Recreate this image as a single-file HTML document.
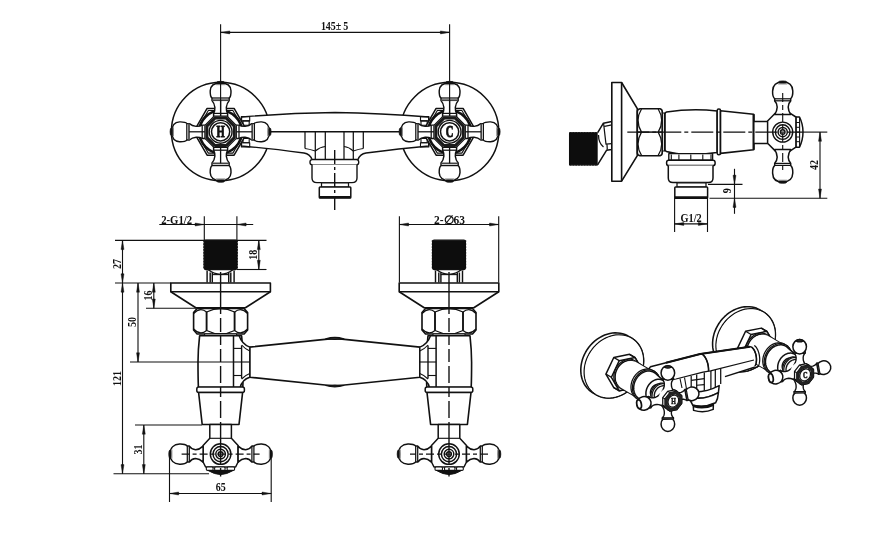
<!DOCTYPE html>
<html><head><meta charset="utf-8"><title>Drawing</title>
<style>
html,body{margin:0;padding:0;background:#fff;}
body{width:869px;height:549px;overflow:hidden;}
svg{display:block;will-change:transform;}
svg text{font-family:"Liberation Serif",serif;fill:#111;stroke:none;}
</style></head>
<body>
<svg width="869" height="549" viewBox="0 0 869 549" stroke="#111" fill="none" stroke-linejoin="round" stroke-linecap="butt">
<rect x="0" y="0" width="869" height="549" fill="#fff" stroke="none"/>
<circle cx="220.6" cy="131.5" r="49.2" stroke-width="1.50" fill="none" />
<circle cx="449.6" cy="131.5" r="49.2" stroke-width="1.50" fill="none" />
<path d="M241.5 117 Q290 113 335 112.5 Q380 113 428.7 117 L428.7 146 Q400 148.5 366 153 Q360 154 358 159.5 L312 159.5 Q310 154 304 153 Q270 148.5 241.5 146Z" stroke-width="1.38" fill="#fff" />
<path d="M270.00 131.70L399.00 131.70" stroke-width="1.38" />
<g transform="translate(220.6 0) scale(1 1)">
<rect x="20.8" y="116.6" width="8.3" height="4.3" rx="0" stroke-width="1.12" fill="none" />
<rect x="22.4" y="120.9" width="6.2" height="4.4" rx="0" stroke-width="1.12" fill="none" />
<rect x="22.4" y="138.4" width="6.2" height="4.4" rx="0" stroke-width="1.12" fill="none" />
<rect x="20.8" y="142.8" width="8.3" height="4.2" rx="0" stroke-width="1.12" fill="none" />
</g>
<g transform="translate(449.6 0) scale(-1 1)">
<rect x="20.8" y="116.6" width="8.3" height="4.3" rx="0" stroke-width="1.12" fill="none" />
<rect x="22.4" y="120.9" width="6.2" height="4.4" rx="0" stroke-width="1.12" fill="none" />
<rect x="22.4" y="138.4" width="6.2" height="4.4" rx="0" stroke-width="1.12" fill="none" />
<rect x="20.8" y="142.8" width="8.3" height="4.2" rx="0" stroke-width="1.12" fill="none" />
</g>
<path d="M305.00 131.70L305.00 148.50" stroke-width="1.25" />
<path d="M315.30 131.70L315.30 159.00" stroke-width="1.25" />
<path d="M325.30 131.70L325.30 159.00" stroke-width="1.25" />
<path d="M344.00 131.70L344.00 159.00" stroke-width="1.25" />
<path d="M353.30 131.70L353.30 159.00" stroke-width="1.25" />
<path d="M363.30 131.70L363.30 148.50" stroke-width="1.25" />
<path d="M305 148.5 Q309 149 315.3 151 M315.3 151 Q320 147 325.3 146.5" stroke-width="1.12" fill="none" />
<path d="M363.3 148.5 Q359 149 353.3 151 M353.3 151 Q349 147 344 146.5" stroke-width="1.12" fill="none" />
<rect x="310" y="159.6" width="48.7" height="5" rx="2.2" stroke-width="1.38" fill="#fff" />
<path d="M312 164.6 L312 178 Q312 182.6 317 182.6 L352 182.6 Q357 182.6 357 178 L357 164.6" stroke-width="1.38" fill="#fff" />
<rect x="321.5" y="182.8" width="27" height="4.2" rx="0" stroke-width="1.25" fill="#fff" />
<rect x="319.3" y="187" width="31.5" height="11" rx="0.8" stroke-width="1.50" fill="#fff" />
<path d="M319.30 197.10L350.80 197.10" stroke-width="2.25" />
<path d="M334.70 150.00L334.70 213.00" stroke-width="1.38" stroke-dasharray="14 3 3 3"/>
<g transform="translate(220.6 131.8)">
<polygon points="27.00,0.00 13.50,23.38 -13.50,23.38 -27.00,0.00 -13.50,-23.38 13.50,-23.38" fill="#fff" stroke-width="1.5"/>
<polygon points="24.60,0.00 12.30,21.30 -12.30,21.30 -24.60,0.00 -12.30,-21.30 12.30,-21.30" fill="none" stroke-width="1.1"/>
<circle cx="0" cy="0" r="21.3" stroke-width="2.62" fill="#fff" />
<g transform="rotate(0) scale(1.06 1)">
<path d="M-6.6 -15 L-6.6 -18.2 Q-5.2 -21 -5.4 -24.5 Q-5.8 -28.5 -8.1 -31.2 L-8.1 -33.6 C-9.6 -35 -9.9 -38 -9.8 -41 C-9.6 -46 -6.5 -48.8 0 -48.8 C6.5 -48.8 9.6 -46 9.8 -41 C9.9 -38 9.6 -35 8.1 -33.6 L8.1 -31.2 Q5.8 -28.5 5.4 -24.5 Q5.2 -21 6.6 -18.2 L6.6 -15Z" stroke-width="1.38" fill="#fff" />
<path d="M-8.10 -33.80L8.10 -33.80" stroke-width="1.25" />
<path d="M-8.10 -31.60L8.10 -31.60" stroke-width="1.75" stroke="#444"/>
<path d="M-6.60 -18.40L6.60 -18.40" stroke-width="1.25" />
<path d="M0.00 -15.00L0.00 -31.50" stroke-width="1.25" />
<ellipse cx="0" cy="-49.1" rx="4" ry="1.4" stroke-width="0.75" fill="#111" />
<path d="M-4.50 -47.20L4.50 -47.20" stroke-width="1.12" stroke="#888"/>
</g>
<g transform="rotate(90) scale(1.01 1)">
<path d="M-6.6 -15 L-6.6 -18.2 Q-5.2 -21 -5.4 -24.5 Q-5.8 -28.5 -8.1 -31.2 L-8.1 -33.6 C-9.6 -35 -9.9 -38 -9.8 -41 C-9.6 -46 -6.5 -48.8 0 -48.8 C6.5 -48.8 9.6 -46 9.8 -41 C9.9 -38 9.6 -35 8.1 -33.6 L8.1 -31.2 Q5.8 -28.5 5.4 -24.5 Q5.2 -21 6.6 -18.2 L6.6 -15Z" stroke-width="1.38" fill="#fff" />
<path d="M-8.10 -33.80L8.10 -33.80" stroke-width="1.25" />
<path d="M-8.10 -31.60L8.10 -31.60" stroke-width="1.75" stroke="#444"/>
<path d="M-6.60 -18.40L6.60 -18.40" stroke-width="1.25" />
<path d="M0.00 -15.00L0.00 -31.50" stroke-width="1.25" />
<ellipse cx="0" cy="-49.1" rx="4" ry="1.4" stroke-width="0.75" fill="#111" />
<path d="M-4.50 -47.20L4.50 -47.20" stroke-width="1.12" stroke="#888"/>
</g>
<g transform="rotate(180) scale(1.06 1)">
<path d="M-6.6 -15 L-6.6 -18.2 Q-5.2 -21 -5.4 -24.5 Q-5.8 -28.5 -8.1 -31.2 L-8.1 -33.6 C-9.6 -35 -9.9 -38 -9.8 -41 C-9.6 -46 -6.5 -48.8 0 -48.8 C6.5 -48.8 9.6 -46 9.8 -41 C9.9 -38 9.6 -35 8.1 -33.6 L8.1 -31.2 Q5.8 -28.5 5.4 -24.5 Q5.2 -21 6.6 -18.2 L6.6 -15Z" stroke-width="1.38" fill="#fff" />
<path d="M-8.10 -33.80L8.10 -33.80" stroke-width="1.25" />
<path d="M-8.10 -31.60L8.10 -31.60" stroke-width="1.75" stroke="#444"/>
<path d="M-6.60 -18.40L6.60 -18.40" stroke-width="1.25" />
<path d="M0.00 -15.00L0.00 -31.50" stroke-width="1.25" />
<ellipse cx="0" cy="-49.1" rx="4" ry="1.4" stroke-width="0.75" fill="#111" />
<path d="M-4.50 -47.20L4.50 -47.20" stroke-width="1.12" stroke="#888"/>
</g>
<g transform="rotate(270) scale(1.01 1)">
<path d="M-6.6 -15 L-6.6 -18.2 Q-5.2 -21 -5.4 -24.5 Q-5.8 -28.5 -8.1 -31.2 L-8.1 -33.6 C-9.6 -35 -9.9 -38 -9.8 -41 C-9.6 -46 -6.5 -48.8 0 -48.8 C6.5 -48.8 9.6 -46 9.8 -41 C9.9 -38 9.6 -35 8.1 -33.6 L8.1 -31.2 Q5.8 -28.5 5.4 -24.5 Q5.2 -21 6.6 -18.2 L6.6 -15Z" stroke-width="1.38" fill="#fff" />
<path d="M-8.10 -33.80L8.10 -33.80" stroke-width="1.25" />
<path d="M-8.10 -31.60L8.10 -31.60" stroke-width="1.75" stroke="#444"/>
<path d="M-6.60 -18.40L6.60 -18.40" stroke-width="1.25" />
<path d="M0.00 -15.00L0.00 -31.50" stroke-width="1.25" />
<ellipse cx="0" cy="-49.1" rx="4" ry="1.4" stroke-width="0.75" fill="#111" />
<path d="M-4.50 -47.20L4.50 -47.20" stroke-width="1.12" stroke="#888"/>
</g>
<polygon points="15.70,6.50 6.50,15.70 -6.50,15.70 -15.70,6.50 -15.70,-6.50 -6.50,-15.70 6.50,-15.70 15.70,-6.50" fill="#fff" stroke-width="1.2"/>
<polygon points="13.70,5.67 5.67,13.70 -5.67,13.70 -13.70,5.67 -13.70,-5.67 -5.67,-13.70 5.67,-13.70 13.70,-5.67" fill="#fff" stroke-width="3" stroke="#1a1a1a"/>
<circle cx="0" cy="0" r="11.4" stroke-width="1.38" fill="#fff" />
<circle cx="0" cy="0" r="9.1" stroke-width="1.50" fill="#fff" />
<text x="0" y="5.5" font-size="16.5" text-anchor="middle" font-weight="bold" textLength="8.2" lengthAdjust="spacingAndGlyphs" style="stroke:#111;stroke-width:1px">H</text>
</g>
<g transform="translate(449.6 131.8)">
<polygon points="27.00,0.00 13.50,23.38 -13.50,23.38 -27.00,0.00 -13.50,-23.38 13.50,-23.38" fill="#fff" stroke-width="1.5"/>
<polygon points="24.60,0.00 12.30,21.30 -12.30,21.30 -24.60,0.00 -12.30,-21.30 12.30,-21.30" fill="none" stroke-width="1.1"/>
<circle cx="0" cy="0" r="21.3" stroke-width="2.62" fill="#fff" />
<g transform="rotate(0) scale(1.06 1)">
<path d="M-6.6 -15 L-6.6 -18.2 Q-5.2 -21 -5.4 -24.5 Q-5.8 -28.5 -8.1 -31.2 L-8.1 -33.6 C-9.6 -35 -9.9 -38 -9.8 -41 C-9.6 -46 -6.5 -48.8 0 -48.8 C6.5 -48.8 9.6 -46 9.8 -41 C9.9 -38 9.6 -35 8.1 -33.6 L8.1 -31.2 Q5.8 -28.5 5.4 -24.5 Q5.2 -21 6.6 -18.2 L6.6 -15Z" stroke-width="1.38" fill="#fff" />
<path d="M-8.10 -33.80L8.10 -33.80" stroke-width="1.25" />
<path d="M-8.10 -31.60L8.10 -31.60" stroke-width="1.75" stroke="#444"/>
<path d="M-6.60 -18.40L6.60 -18.40" stroke-width="1.25" />
<path d="M0.00 -15.00L0.00 -31.50" stroke-width="1.25" />
<ellipse cx="0" cy="-49.1" rx="4" ry="1.4" stroke-width="0.75" fill="#111" />
<path d="M-4.50 -47.20L4.50 -47.20" stroke-width="1.12" stroke="#888"/>
</g>
<g transform="rotate(90) scale(1.01 1)">
<path d="M-6.6 -15 L-6.6 -18.2 Q-5.2 -21 -5.4 -24.5 Q-5.8 -28.5 -8.1 -31.2 L-8.1 -33.6 C-9.6 -35 -9.9 -38 -9.8 -41 C-9.6 -46 -6.5 -48.8 0 -48.8 C6.5 -48.8 9.6 -46 9.8 -41 C9.9 -38 9.6 -35 8.1 -33.6 L8.1 -31.2 Q5.8 -28.5 5.4 -24.5 Q5.2 -21 6.6 -18.2 L6.6 -15Z" stroke-width="1.38" fill="#fff" />
<path d="M-8.10 -33.80L8.10 -33.80" stroke-width="1.25" />
<path d="M-8.10 -31.60L8.10 -31.60" stroke-width="1.75" stroke="#444"/>
<path d="M-6.60 -18.40L6.60 -18.40" stroke-width="1.25" />
<path d="M0.00 -15.00L0.00 -31.50" stroke-width="1.25" />
<ellipse cx="0" cy="-49.1" rx="4" ry="1.4" stroke-width="0.75" fill="#111" />
<path d="M-4.50 -47.20L4.50 -47.20" stroke-width="1.12" stroke="#888"/>
</g>
<g transform="rotate(180) scale(1.06 1)">
<path d="M-6.6 -15 L-6.6 -18.2 Q-5.2 -21 -5.4 -24.5 Q-5.8 -28.5 -8.1 -31.2 L-8.1 -33.6 C-9.6 -35 -9.9 -38 -9.8 -41 C-9.6 -46 -6.5 -48.8 0 -48.8 C6.5 -48.8 9.6 -46 9.8 -41 C9.9 -38 9.6 -35 8.1 -33.6 L8.1 -31.2 Q5.8 -28.5 5.4 -24.5 Q5.2 -21 6.6 -18.2 L6.6 -15Z" stroke-width="1.38" fill="#fff" />
<path d="M-8.10 -33.80L8.10 -33.80" stroke-width="1.25" />
<path d="M-8.10 -31.60L8.10 -31.60" stroke-width="1.75" stroke="#444"/>
<path d="M-6.60 -18.40L6.60 -18.40" stroke-width="1.25" />
<path d="M0.00 -15.00L0.00 -31.50" stroke-width="1.25" />
<ellipse cx="0" cy="-49.1" rx="4" ry="1.4" stroke-width="0.75" fill="#111" />
<path d="M-4.50 -47.20L4.50 -47.20" stroke-width="1.12" stroke="#888"/>
</g>
<g transform="rotate(270) scale(1.01 1)">
<path d="M-6.6 -15 L-6.6 -18.2 Q-5.2 -21 -5.4 -24.5 Q-5.8 -28.5 -8.1 -31.2 L-8.1 -33.6 C-9.6 -35 -9.9 -38 -9.8 -41 C-9.6 -46 -6.5 -48.8 0 -48.8 C6.5 -48.8 9.6 -46 9.8 -41 C9.9 -38 9.6 -35 8.1 -33.6 L8.1 -31.2 Q5.8 -28.5 5.4 -24.5 Q5.2 -21 6.6 -18.2 L6.6 -15Z" stroke-width="1.38" fill="#fff" />
<path d="M-8.10 -33.80L8.10 -33.80" stroke-width="1.25" />
<path d="M-8.10 -31.60L8.10 -31.60" stroke-width="1.75" stroke="#444"/>
<path d="M-6.60 -18.40L6.60 -18.40" stroke-width="1.25" />
<path d="M0.00 -15.00L0.00 -31.50" stroke-width="1.25" />
<ellipse cx="0" cy="-49.1" rx="4" ry="1.4" stroke-width="0.75" fill="#111" />
<path d="M-4.50 -47.20L4.50 -47.20" stroke-width="1.12" stroke="#888"/>
</g>
<polygon points="15.70,6.50 6.50,15.70 -6.50,15.70 -15.70,6.50 -15.70,-6.50 -6.50,-15.70 6.50,-15.70 15.70,-6.50" fill="#fff" stroke-width="1.2"/>
<polygon points="13.70,5.67 5.67,13.70 -5.67,13.70 -13.70,5.67 -13.70,-5.67 -5.67,-13.70 5.67,-13.70 13.70,-5.67" fill="#fff" stroke-width="3" stroke="#1a1a1a"/>
<circle cx="0" cy="0" r="11.4" stroke-width="1.38" fill="#fff" />
<circle cx="0" cy="0" r="9.1" stroke-width="1.50" fill="#fff" />
<text x="0" y="5.5" font-size="16.5" text-anchor="middle" font-weight="bold" textLength="7.6" lengthAdjust="spacingAndGlyphs" style="stroke:#111;stroke-width:1px">C</text>
</g>
<path d="M220.60 24.20L220.60 116.00" stroke-width="1.12" />
<path d="M449.60 24.20L449.60 116.00" stroke-width="1.12" />
<path d="M220.60 32.40L449.60 32.40" stroke-width="1.12" />
<path d="M220.60 32.40L229.80 30.90L229.80 33.90Z" fill="#111" stroke-width="0.4"/>
<path d="M449.60 32.40L440.40 33.90L440.40 30.90Z" fill="#111" stroke-width="0.4"/>
<text x="334.6" y="30" font-size="12.3" text-anchor="middle" font-weight="bold" textLength="27.4" lengthAdjust="spacingAndGlyphs" >145±&#8201;5</text>
<path d="M249.6 347.1 L334.8 338.4 L420.0 347.1 L420.0 377.2 L334.8 386 L249.6 377.2Z" stroke-width="1.62" fill="#fff" />
<path d="M325.8 338.9 Q334.8 336 343.8 338.9 Q334.8 339.6 325.8 338.9Z" stroke-width="1.25" fill="#333" />
<path d="M325.8 385.5 Q334.8 388.4 343.8 385.5 Q334.8 384.8 325.8 385.5Z" stroke-width="1.25" fill="#333" />
<g transform="translate(220.6 0) scale(1 1)">
<rect x="-16.4" y="240.2" width="32.8" height="29.4" rx="1.5" stroke-width="1.25" fill="#0d0d0d" stroke="#0d0d0d"/>
<path d="M-17.2 241.2h1M16.2 241.2h1M-17.2 244.1h1M16.2 244.1h1M-17.2 247.0h1M16.2 247.0h1M-17.2 249.9h1M16.2 249.9h1M-17.2 252.8h1M16.2 252.8h1M-17.2 255.7h1M16.2 255.7h1M-17.2 258.6h1M16.2 258.6h1M-17.2 261.5h1M16.2 261.5h1M-17.2 264.4h1M16.2 264.4h1M-17.2 267.3h1M16.2 267.3h1" stroke-width="1.75" fill="none" stroke="#0d0d0d"/>
<path d="M-12.8 269.6 Q0 279 12.8 269.6Z" stroke-width="1.25" fill="#fff" />
<path d="M-13.50 270.50L-13.50 282.50" stroke-width="1.44" />
<path d="M-10.40 272.50L-10.40 282.50" stroke-width="1.44" />
<path d="M-8.30 272.50L-8.30 282.50" stroke-width="1.44" />
<path d="M8.10 272.50L8.10 282.50" stroke-width="1.44" />
<path d="M10.20 272.50L10.20 282.50" stroke-width="1.44" />
<path d="M13.50 270.50L13.50 282.50" stroke-width="1.44" />
<path d="M-8.3 274.6 L8.1 274.6" stroke-width="1.12" fill="none" />
<path d="M-49.8 283 L49.8 283 L49.8 291.8 L24.8 307.8 L-24.8 307.8 L-49.8 291.8Z" stroke-width="1.62" fill="#fff" />
<path d="M-49.80 291.80L49.80 291.80" stroke-width="1.62" />
<path d="M-23.5 308.5 L23.5 308.5 L27 312.5 L27 330 L23.5 334 L-23.5 334 L-27 330 L-27 312.5Z" stroke-width="1.62" fill="#fff" />
<path d="M-14.00 312.00L-14.00 330.50" stroke-width="1.88" />
<path d="M14.00 312.00L14.00 330.50" stroke-width="1.88" />
<path d="M-27 313.5 Q-20.5 306.5 -14 312 Q0 305 14 312 Q20.5 306.5 27 313.5" stroke-width="1.25" fill="none" />
<path d="M-27 329 Q-20.5 336 -14 330.5 Q0 337.5 14 330.5 Q20.5 336 27 329" stroke-width="1.25" fill="none" />
<rect x="-16" y="334" width="32" height="1.8" rx="0" stroke-width="1.12" fill="#fff" />
<path d="M-21 335.8 L21 335.8 Q22.6 350 22.6 362 Q22.6 378 22.2 387.5 L-22.2 387.5 Q-22.6 378 -22.6 362 Q-22.6 350 -21 335.8Z" stroke-width="1.62" fill="#fff" />
</g>
<g transform="translate(220.6 0) scale(1 1)">
<path d="M18.5 335.8 Q21.5 344.5 29.2 347.1 L29.2 377.2 Q21.5 379.5 19.5 387.5 L12.9 387.5 L12.9 335.8Z" stroke-width="1.50" fill="#fff" />
<path d="M21.00 345.50L21.00 378.50" stroke-width="1.38" />
<path d="M21 345 Q25 349.5 29.2 351" stroke-width="1.12" fill="none" />
<path d="M21 379 Q25 375 29.2 373.5" stroke-width="1.12" fill="none" />
<path d="M12.90 348.40L21.00 348.40" stroke-width="1.12" />
<path d="M12.90 362.00L29.20 362.00" stroke-width="1.12" />
<path d="M12.90 375.50L21.00 375.50" stroke-width="1.12" />
</g>
<g transform="translate(220.6 0) scale(1 1)">
<rect x="-23.8" y="387.1" width="47.6" height="5.4" rx="2" stroke-width="1.50" fill="#fff" />
<path d="M-22 392.5 L22 392.5 L18.4 424.5 L-18.4 424.5Z" stroke-width="1.62" fill="#fff" />
<path d="M-10.8 424.5 L10.8 424.5 L10.8 438.3 L17.5 445.5 L17.5 462 L15 467 L-15 467 L-17.5 462 L-17.5 445.5 L-10.8 438.3Z" stroke-width="1.50" fill="#fff" />
<path d="M-10.80 438.30L10.80 438.30" stroke-width="1.12" />
</g>
<g transform="translate(220.6 454.1)">
<g transform="scale(1 1)">
<path d="M-17.5 -8 Q-21 -4.6000000000000005 -25 -4.4 Q-29 -4.6000000000000005 -31.2 -8 L-33.3 -8 C-34.8 -9.6 -37.8 -10.2 -41 -10.1 C-46.5 -9.9 -50.6 -6.5 -50.6 0 C-50.6 6.5 -46.5 9.9 -41 10.1 C-37.8 10.2 -34.8 9.6 -33.3 8 L-31.2 8 Q-29 4.6000000000000005 -25 4.4 Q-21 4.6000000000000005 -17.5 8 Z" stroke-width="1.50" fill="#fff" />
<path d="M-33.30 -8.00L-33.30 8.00" stroke-width="1.25" />
<path d="M-31.30 -8.00L-31.30 8.00" stroke-width="1.25" />
<ellipse cx="-50.5" cy="0" rx="1.3" ry="4.2" stroke-width="0.75" fill="#111" />
<path d="M-48.80 -4.60L-48.80 4.60" stroke-width="1.12" stroke="#888"/>
</g>
<g transform="scale(-1 1)">
<path d="M-17.5 -8 Q-21 -4.6000000000000005 -25 -4.4 Q-29 -4.6000000000000005 -31.2 -8 L-33.3 -8 C-34.8 -9.6 -37.8 -10.2 -41 -10.1 C-46.5 -9.9 -50.6 -6.5 -50.6 0 C-50.6 6.5 -46.5 9.9 -41 10.1 C-37.8 10.2 -34.8 9.6 -33.3 8 L-31.2 8 Q-29 4.6000000000000005 -25 4.4 Q-21 4.6000000000000005 -17.5 8 Z" stroke-width="1.50" fill="#fff" />
<path d="M-33.30 -8.00L-33.30 8.00" stroke-width="1.25" />
<path d="M-31.30 -8.00L-31.30 8.00" stroke-width="1.25" />
<ellipse cx="-50.5" cy="0" rx="1.3" ry="4.2" stroke-width="0.75" fill="#111" />
<path d="M-48.80 -4.60L-48.80 4.60" stroke-width="1.12" stroke="#888"/>
</g>
</g>
<g transform="translate(220.6 0) scale(1 1)">
<circle cx="0" cy="454.1" r="10.3" stroke-width="1.44" fill="#fff" />
<circle cx="0" cy="454.1" r="7.6" stroke-width="1.44" fill="none" />
<circle cx="0" cy="454.1" r="4.8" stroke-width="1.44" fill="none" />
<circle cx="0" cy="454.1" r="2.4" stroke-width="1.44" fill="none" />
<rect x="-14.3" y="467" width="6.8" height="3.4" rx="1.2" stroke-width="1.12" fill="#fff" />
<rect x="-6" y="467" width="10.5" height="3.4" rx="1.2" stroke-width="1.12" fill="#fff" />
<rect x="6.5" y="467" width="7.5" height="3.4" rx="1.2" stroke-width="1.12" fill="#fff" />
<path d="M-12.5 470.5 L12.5 470.5 Q6 474.5 0 474.5 Q-6 474.5 -12.5 470.5Z" stroke-width="1.00" fill="#111" />
<path d="M-39.00 454.10L39.00 454.10" stroke-width="1.12" stroke-dasharray="8 3 4 3"/>
</g>
<path d="M220.60 272.00L220.60 476.50" stroke-width="1.38" stroke-dasharray="42 4 14 4 9 4 13 4 17 4 10 4 17 4"/>
<g transform="translate(449.0 0) scale(-1 1)">
<rect x="-16.4" y="240.2" width="32.8" height="29.4" rx="1.5" stroke-width="1.25" fill="#0d0d0d" stroke="#0d0d0d"/>
<path d="M-17.2 241.2h1M16.2 241.2h1M-17.2 244.1h1M16.2 244.1h1M-17.2 247.0h1M16.2 247.0h1M-17.2 249.9h1M16.2 249.9h1M-17.2 252.8h1M16.2 252.8h1M-17.2 255.7h1M16.2 255.7h1M-17.2 258.6h1M16.2 258.6h1M-17.2 261.5h1M16.2 261.5h1M-17.2 264.4h1M16.2 264.4h1M-17.2 267.3h1M16.2 267.3h1" stroke-width="1.75" fill="none" stroke="#0d0d0d"/>
<path d="M-12.8 269.6 Q0 279 12.8 269.6Z" stroke-width="1.25" fill="#fff" />
<path d="M-13.50 270.50L-13.50 282.50" stroke-width="1.44" />
<path d="M-10.40 272.50L-10.40 282.50" stroke-width="1.44" />
<path d="M-8.30 272.50L-8.30 282.50" stroke-width="1.44" />
<path d="M8.10 272.50L8.10 282.50" stroke-width="1.44" />
<path d="M10.20 272.50L10.20 282.50" stroke-width="1.44" />
<path d="M13.50 270.50L13.50 282.50" stroke-width="1.44" />
<path d="M-8.3 274.6 L8.1 274.6" stroke-width="1.12" fill="none" />
<path d="M-49.8 283 L49.8 283 L49.8 291.8 L24.8 307.8 L-24.8 307.8 L-49.8 291.8Z" stroke-width="1.62" fill="#fff" />
<path d="M-49.80 291.80L49.80 291.80" stroke-width="1.62" />
<path d="M-23.5 308.5 L23.5 308.5 L27 312.5 L27 330 L23.5 334 L-23.5 334 L-27 330 L-27 312.5Z" stroke-width="1.62" fill="#fff" />
<path d="M-14.00 312.00L-14.00 330.50" stroke-width="1.88" />
<path d="M14.00 312.00L14.00 330.50" stroke-width="1.88" />
<path d="M-27 313.5 Q-20.5 306.5 -14 312 Q0 305 14 312 Q20.5 306.5 27 313.5" stroke-width="1.25" fill="none" />
<path d="M-27 329 Q-20.5 336 -14 330.5 Q0 337.5 14 330.5 Q20.5 336 27 329" stroke-width="1.25" fill="none" />
<rect x="-16" y="334" width="32" height="1.8" rx="0" stroke-width="1.12" fill="#fff" />
<path d="M-21 335.8 L21 335.8 Q22.6 350 22.6 362 Q22.6 378 22.2 387.5 L-22.2 387.5 Q-22.6 378 -22.6 362 Q-22.6 350 -21 335.8Z" stroke-width="1.62" fill="#fff" />
</g>
<g transform="translate(449.0 0) scale(-1 1)">
<path d="M18.5 335.8 Q21.5 344.5 29.2 347.1 L29.2 377.2 Q21.5 379.5 19.5 387.5 L12.9 387.5 L12.9 335.8Z" stroke-width="1.50" fill="#fff" />
<path d="M21.00 345.50L21.00 378.50" stroke-width="1.38" />
<path d="M21 345 Q25 349.5 29.2 351" stroke-width="1.12" fill="none" />
<path d="M21 379 Q25 375 29.2 373.5" stroke-width="1.12" fill="none" />
<path d="M12.90 348.40L21.00 348.40" stroke-width="1.12" />
<path d="M12.90 362.00L29.20 362.00" stroke-width="1.12" />
<path d="M12.90 375.50L21.00 375.50" stroke-width="1.12" />
</g>
<g transform="translate(449.0 0) scale(-1 1)">
<rect x="-23.8" y="387.1" width="47.6" height="5.4" rx="2" stroke-width="1.50" fill="#fff" />
<path d="M-22 392.5 L22 392.5 L18.4 424.5 L-18.4 424.5Z" stroke-width="1.62" fill="#fff" />
<path d="M-10.8 424.5 L10.8 424.5 L10.8 438.3 L17.5 445.5 L17.5 462 L15 467 L-15 467 L-17.5 462 L-17.5 445.5 L-10.8 438.3Z" stroke-width="1.50" fill="#fff" />
<path d="M-10.80 438.30L10.80 438.30" stroke-width="1.12" />
</g>
<g transform="translate(449.0 454.1)">
<g transform="scale(1 1)">
<path d="M-17.5 -8 Q-21 -4.6000000000000005 -25 -4.4 Q-29 -4.6000000000000005 -31.2 -8 L-33.3 -8 C-34.8 -9.6 -37.8 -10.2 -41 -10.1 C-46.5 -9.9 -50.6 -6.5 -50.6 0 C-50.6 6.5 -46.5 9.9 -41 10.1 C-37.8 10.2 -34.8 9.6 -33.3 8 L-31.2 8 Q-29 4.6000000000000005 -25 4.4 Q-21 4.6000000000000005 -17.5 8 Z" stroke-width="1.50" fill="#fff" />
<path d="M-33.30 -8.00L-33.30 8.00" stroke-width="1.25" />
<path d="M-31.30 -8.00L-31.30 8.00" stroke-width="1.25" />
<ellipse cx="-50.5" cy="0" rx="1.3" ry="4.2" stroke-width="0.75" fill="#111" />
<path d="M-48.80 -4.60L-48.80 4.60" stroke-width="1.12" stroke="#888"/>
</g>
<g transform="scale(-1 1)">
<path d="M-17.5 -8 Q-21 -4.6000000000000005 -25 -4.4 Q-29 -4.6000000000000005 -31.2 -8 L-33.3 -8 C-34.8 -9.6 -37.8 -10.2 -41 -10.1 C-46.5 -9.9 -50.6 -6.5 -50.6 0 C-50.6 6.5 -46.5 9.9 -41 10.1 C-37.8 10.2 -34.8 9.6 -33.3 8 L-31.2 8 Q-29 4.6000000000000005 -25 4.4 Q-21 4.6000000000000005 -17.5 8 Z" stroke-width="1.50" fill="#fff" />
<path d="M-33.30 -8.00L-33.30 8.00" stroke-width="1.25" />
<path d="M-31.30 -8.00L-31.30 8.00" stroke-width="1.25" />
<ellipse cx="-50.5" cy="0" rx="1.3" ry="4.2" stroke-width="0.75" fill="#111" />
<path d="M-48.80 -4.60L-48.80 4.60" stroke-width="1.12" stroke="#888"/>
</g>
</g>
<g transform="translate(449.0 0) scale(-1 1)">
<circle cx="0" cy="454.1" r="10.3" stroke-width="1.44" fill="#fff" />
<circle cx="0" cy="454.1" r="7.6" stroke-width="1.44" fill="none" />
<circle cx="0" cy="454.1" r="4.8" stroke-width="1.44" fill="none" />
<circle cx="0" cy="454.1" r="2.4" stroke-width="1.44" fill="none" />
<rect x="-14.3" y="467" width="6.8" height="3.4" rx="1.2" stroke-width="1.12" fill="#fff" />
<rect x="-6" y="467" width="10.5" height="3.4" rx="1.2" stroke-width="1.12" fill="#fff" />
<rect x="6.5" y="467" width="7.5" height="3.4" rx="1.2" stroke-width="1.12" fill="#fff" />
<path d="M-12.5 470.5 L12.5 470.5 Q6 474.5 0 474.5 Q-6 474.5 -12.5 470.5Z" stroke-width="1.00" fill="#111" />
<path d="M-39.00 454.10L39.00 454.10" stroke-width="1.12" stroke-dasharray="8 3 4 3"/>
</g>
<path d="M449.00 272.00L449.00 476.50" stroke-width="1.38" stroke-dasharray="42 4 14 4 9 4 13 4 17 4 10 4 17 4"/>
<path d="M204.30 216.30L204.30 240.00" stroke-width="1.12" />
<path d="M236.90 216.30L236.90 240.00" stroke-width="1.12" />
<path d="M159.30 224.50L253.20 224.50" stroke-width="1.12" />
<path d="M204.30 224.50L195.10 226.00L195.10 223.00Z" fill="#111" stroke-width="0.4"/>
<path d="M236.90 224.50L246.10 223.00L246.10 226.00Z" fill="#111" stroke-width="0.4"/>
<text x="161.2" y="224" font-size="11.5" text-anchor="start" font-weight="bold" textLength="31" lengthAdjust="spacingAndGlyphs" >2-G1/2</text>
<path d="M399.40 216.30L399.40 282.60" stroke-width="1.12" />
<path d="M498.70 216.30L498.70 282.60" stroke-width="1.12" />
<path d="M399.40 224.50L498.70 224.50" stroke-width="1.12" />
<path d="M399.40 224.50L408.60 223.00L408.60 226.00Z" fill="#111" stroke-width="0.4"/>
<path d="M498.70 224.50L489.50 226.00L489.50 223.00Z" fill="#111" stroke-width="0.4"/>
<text x="449.5" y="224" font-size="11.5" text-anchor="middle" font-weight="bold" textLength="31" lengthAdjust="spacingAndGlyphs" >2-∅63</text>
<path d="M115.00 240.40L266.50 240.40" stroke-width="1.12" />
<path d="M237.00 269.50L266.50 269.50" stroke-width="1.12" />
<path d="M115.00 283.00L171.00 283.00" stroke-width="1.12" />
<path d="M146.00 308.20L196.00 308.20" stroke-width="1.12" />
<path d="M130.00 362.00L233.00 362.00" stroke-width="1.12" />
<path d="M135.00 425.00L202.00 425.00" stroke-width="1.12" />
<path d="M113.50 473.80L209.00 473.80" stroke-width="1.12" />
<path d="M258.80 240.40L258.80 269.50" stroke-width="1.12" />
<path d="M258.80 240.40L260.30 249.60L257.30 249.60Z" fill="#111" stroke-width="0.4"/>
<path d="M258.80 269.50L257.30 260.30L260.30 260.30Z" fill="#111" stroke-width="0.4"/>
<text x="256.6" y="254.8" font-size="11.5" text-anchor="middle" font-weight="bold" transform="rotate(-90 256.6 254.8)" textLength="10.0" lengthAdjust="spacingAndGlyphs" >18</text>
<path d="M122.50 240.40L122.50 283.00" stroke-width="1.12" />
<path d="M122.50 240.40L124.00 249.60L121.00 249.60Z" fill="#111" stroke-width="0.4"/>
<path d="M122.50 283.00L121.00 273.80L124.00 273.80Z" fill="#111" stroke-width="0.4"/>
<text x="120.8" y="264" font-size="11.5" text-anchor="middle" font-weight="bold" transform="rotate(-90 120.8 264)" textLength="10.0" lengthAdjust="spacingAndGlyphs" >27</text>
<path d="M122.50 283.00L122.50 473.80" stroke-width="1.12" />
<path d="M122.50 283.00L124.00 292.20L121.00 292.20Z" fill="#111" stroke-width="0.4"/>
<path d="M122.50 473.80L121.00 464.60L124.00 464.60Z" fill="#111" stroke-width="0.4"/>
<text x="120.8" y="378.5" font-size="11.5" text-anchor="middle" font-weight="bold" transform="rotate(-90 120.8 378.5)" textLength="15.0" lengthAdjust="spacingAndGlyphs" >121</text>
<path d="M138.00 283.00L138.00 362.00" stroke-width="1.12" />
<path d="M138.00 283.00L139.50 292.20L136.50 292.20Z" fill="#111" stroke-width="0.4"/>
<path d="M138.00 362.00L136.50 352.80L139.50 352.80Z" fill="#111" stroke-width="0.4"/>
<text x="136.3" y="322" font-size="11.5" text-anchor="middle" font-weight="bold" transform="rotate(-90 136.3 322)" textLength="10.0" lengthAdjust="spacingAndGlyphs" >50</text>
<path d="M153.80 283.00L153.80 308.20" stroke-width="1.12" />
<path d="M153.80 283.00L155.30 292.20L152.30 292.20Z" fill="#111" stroke-width="0.4"/>
<path d="M153.80 308.20L152.30 299.00L155.30 299.00Z" fill="#111" stroke-width="0.4"/>
<text x="152.4" y="295.5" font-size="11.5" text-anchor="middle" font-weight="bold" transform="rotate(-90 152.4 295.5)" textLength="10.0" lengthAdjust="spacingAndGlyphs" >16</text>
<path d="M143.80 425.00L143.80 473.80" stroke-width="1.12" />
<path d="M143.80 425.00L145.30 434.20L142.30 434.20Z" fill="#111" stroke-width="0.4"/>
<path d="M143.80 473.80L142.30 464.60L145.30 464.60Z" fill="#111" stroke-width="0.4"/>
<text x="142" y="449.5" font-size="11.5" text-anchor="middle" font-weight="bold" transform="rotate(-90 142 449.5)" textLength="10.0" lengthAdjust="spacingAndGlyphs" >31</text>
<path d="M169.50 455.00L169.50 502.00" stroke-width="1.12" />
<path d="M271.20 455.00L271.20 502.00" stroke-width="1.12" />
<path d="M169.50 493.50L271.20 493.50" stroke-width="1.12" />
<path d="M169.50 493.50L178.70 492.00L178.70 495.00Z" fill="#111" stroke-width="0.4"/>
<path d="M271.20 493.50L262.00 495.00L262.00 492.00Z" fill="#111" stroke-width="0.4"/>
<text x="220.8" y="491" font-size="11.5" text-anchor="middle" font-weight="bold" textLength="10.0" lengthAdjust="spacingAndGlyphs" >65</text>
<rect x="569.6" y="132.8" width="28" height="32" rx="0" stroke-width="1.25" fill="#0d0d0d" stroke="#0d0d0d"/>
<path d="M570.6 132.2v1M570.6 164.4v1M573.4 132.2v1M573.4 164.4v1M576.2 132.2v1M576.2 164.4v1M579.0 132.2v1M579.0 164.4v1M581.8 132.2v1M581.8 164.4v1M584.6 132.2v1M584.6 164.4v1M587.4 132.2v1M587.4 164.4v1M590.2 132.2v1M590.2 164.4v1M593.0 132.2v1M593.0 164.4v1M595.8 132.2v1M595.8 164.4v1" stroke-width="1.75" fill="none" stroke="#0d0d0d"/>
<path d="M597.7 132.6 L603.4 123.2 L611.8 121.4 L611.8 149.5 L606.5 150.3 L597.7 164.6" stroke-width="1.50" fill="#fff" />
<path d="M598.5 135 Q598.5 143 603.5 147" stroke-width="1.25" fill="none" />
<path d="M604.6 126.3 L611.8 124.8 M603.6 123.5 L606 144.2 L611.8 143.6 M607 144.5 L607.3 149.8" stroke-width="1.25" fill="none" />
<path d="M611.8 82.5 L621.6 82.5 L637.3 108.7 L637.3 155.7 L621.6 181.2 L611.8 181.2Z" stroke-width="1.62" fill="#fff" />
<path d="M621.60 82.50L621.60 181.20" stroke-width="1.62" />
<path d="M640 108.7 L660 108.7 Q662.2 109.2 662.2 111.5 L662.2 153 Q662.2 155.2 660 155.7 L640 155.7 Q637.3 155.2 637.3 153 L637.3 111.5 Q637.3 109.2 640 108.7Z" stroke-width="1.62" fill="#fff" />
<path d="M641.5 109 Q634.5 120.4 641.5 132.1 Q634.5 144 641.5 155.4 M658.2 109 Q665.2 120.4 658.2 132.1 Q665.2 144 658.2 155.4" stroke-width="1.25" fill="none" />
<path d="M637.30 132.10L662.20 132.10" stroke-width="1.50" />
<rect x="662.6" y="113" width="2" height="38" rx="0" stroke-width="1.12" fill="#fff" />
<path d="M666.5 112 Q692 108.2 717.2 111 L717.2 152.5 Q692 155.3 690 154.6 Q675 154 666.5 151.5 Q665 151 665 149.5 L665 114 Q665 112.4 666.5 112Z" stroke-width="1.62" fill="#fff" />
<rect x="717.2" y="109" width="3.3" height="45.8" rx="1.5" stroke-width="1.50" fill="#fff" />
<path d="M720.5 110.7 L753.6 114.2 L753.6 149.8 L720.5 153.4Z" stroke-width="1.62" fill="#fff" />
<path d="M753.70 114.20L753.70 149.80" stroke-width="2.12" />
<rect x="753.8" y="121.4" width="14" height="22" rx="0" stroke-width="1.50" fill="#fff" />
<path d="M795.9 117 L799.5 117 Q803 124 803 132.1 Q803 140 799.5 147.2 L795.9 147.2Z" stroke-width="1.50" fill="#fff" />
<path d="M799.60 117.50L799.60 146.80" stroke-width="1.12" />
<path d="M795.90 122.50L799.60 122.50" stroke-width="1.00" />
<path d="M795.90 127.30L799.60 127.30" stroke-width="1.00" />
<path d="M795.90 132.10L799.60 132.10" stroke-width="1.00" />
<path d="M795.90 137.00L799.60 137.00" stroke-width="1.00" />
<path d="M795.90 141.70L799.60 141.70" stroke-width="1.00" />
<path d="M767.6 121 L775.2 113.3 L790.3 113.3 L795.9 117 L795.9 147.2 L790.3 150.9 L775.2 150.9 L767.6 143.3Z" stroke-width="1.50" fill="#fff" />
<g transform="translate(782.7 132.1) rotate(90)">
<g transform="scale(1 1)">
<path d="M-17.5 -8 Q-21 -5.7 -25 -5.5 Q-29 -5.7 -31.2 -8 L-33.3 -8 C-34.8 -9.6 -37.8 -10.2 -41 -10.1 C-46.5 -9.9 -50.0 -6.5 -50.0 0 C-50.0 6.5 -46.5 9.9 -41 10.1 C-37.8 10.2 -34.8 9.6 -33.3 8 L-31.2 8 Q-29 5.7 -25 5.5 Q-21 5.7 -17.5 8 Z" stroke-width="1.50" fill="#fff" />
<path d="M-33.30 -8.00L-33.30 8.00" stroke-width="1.25" />
<path d="M-31.30 -8.00L-31.30 8.00" stroke-width="1.25" />
<ellipse cx="-49.9" cy="0" rx="1.3" ry="4.2" stroke-width="0.75" fill="#111" />
<path d="M-48.20 -4.60L-48.20 4.60" stroke-width="1.12" stroke="#888"/>
</g>
<g transform="scale(-1 1)">
<path d="M-17.5 -8 Q-21 -5.7 -25 -5.5 Q-29 -5.7 -31.2 -8 L-33.3 -8 C-34.8 -9.6 -37.8 -10.2 -41 -10.1 C-46.5 -9.9 -50.0 -6.5 -50.0 0 C-50.0 6.5 -46.5 9.9 -41 10.1 C-37.8 10.2 -34.8 9.6 -33.3 8 L-31.2 8 Q-29 5.7 -25 5.5 Q-21 5.7 -17.5 8 Z" stroke-width="1.50" fill="#fff" />
<path d="M-33.30 -8.00L-33.30 8.00" stroke-width="1.25" />
<path d="M-31.30 -8.00L-31.30 8.00" stroke-width="1.25" />
<ellipse cx="-49.9" cy="0" rx="1.3" ry="4.2" stroke-width="0.75" fill="#111" />
<path d="M-48.20 -4.60L-48.20 4.60" stroke-width="1.12" stroke="#888"/>
</g>
</g>
<circle cx="782.7" cy="132.1" r="10" stroke-width="1.44" fill="#fff" />
<circle cx="782.7" cy="132.1" r="7.3" stroke-width="1.44" fill="none" />
<circle cx="782.7" cy="132.1" r="4.6" stroke-width="1.44" fill="none" />
<circle cx="782.7" cy="132.1" r="2.3" stroke-width="1.44" fill="none" />
<path d="M782.70 93.00L782.70 171.00" stroke-width="1.12" stroke-dasharray="9 3 5 3"/>
<rect x="668.8" y="153.6" width="43.8" height="6.7" rx="0" stroke-width="1.38" fill="#fff" />
<path d="M671.30 154.50L671.30 160.30" stroke-width="1.12" />
<path d="M678.90 154.50L678.90 160.30" stroke-width="1.12" />
<path d="M690.80 154.50L690.80 160.30" stroke-width="1.12" />
<path d="M702.80 154.50L702.80 160.30" stroke-width="1.12" />
<path d="M711.00 154.50L711.00 160.30" stroke-width="1.12" />
<rect x="666.6" y="160.3" width="48.5" height="5.3" rx="2.2" stroke-width="1.50" fill="#fff" />
<path d="M668.3 165.6 L668.3 178 Q668.3 182.6 673 182.6 L708.3 182.6 Q713 182.6 713 178 L713 165.6" stroke-width="1.50" fill="#fff" />
<rect x="677" y="182.8" width="29" height="4.2" rx="0" stroke-width="1.25" fill="#fff" />
<rect x="674.8" y="187" width="32.8" height="11.2" rx="0.8" stroke-width="1.50" fill="#fff" />
<path d="M674.80 197.30L707.60 197.30" stroke-width="2.25" />
<path d="M627.30 132.10L803.00 132.10" stroke-width="1.12" stroke-dasharray="22 3 4 3"/>
<path d="M803.00 132.10L827.30 132.10" stroke-width="1.12" />
<path d="M709.50 198.20L827.30 198.20" stroke-width="1.12" />
<path d="M820.00 132.10L820.00 198.20" stroke-width="1.12" />
<path d="M820.00 132.10L821.50 141.30L818.50 141.30Z" fill="#111" stroke-width="0.4"/>
<path d="M820.00 198.20L818.50 189.00L821.50 189.00Z" fill="#111" stroke-width="0.4"/>
<text x="817.5" y="165" font-size="11.5" text-anchor="middle" font-weight="bold" transform="rotate(-90 817.5 165)" textLength="10.0" lengthAdjust="spacingAndGlyphs" >42</text>
<path d="M708.00 184.40L742.50 184.40" stroke-width="1.12" />
<path d="M734.50 168.80L734.50 213.80" stroke-width="1.12" />
<path d="M734.50 184.40L733.00 175.20L736.00 175.20Z" fill="#111" stroke-width="0.4"/>
<path d="M734.50 198.20L736.00 207.40L733.00 207.40Z" fill="#111" stroke-width="0.4"/>
<text x="731.5" y="190.8" font-size="11.5" text-anchor="middle" font-weight="bold" transform="rotate(-90 731.5 190.8)" textLength="5.0" lengthAdjust="spacingAndGlyphs" >9</text>
<path d="M674.60 197.60L674.60 232.00" stroke-width="1.12" />
<path d="M707.50 197.60L707.50 232.00" stroke-width="1.12" />
<path d="M674.60 223.90L707.50 223.90" stroke-width="1.12" />
<path d="M674.60 223.90L683.80 222.40L683.80 225.40Z" fill="#111" stroke-width="0.4"/>
<path d="M707.50 223.90L698.30 225.40L698.30 222.40Z" fill="#111" stroke-width="0.4"/>
<text x="691.1" y="222.3" font-size="12.6" text-anchor="middle" font-weight="bold" textLength="21.2" lengthAdjust="spacingAndGlyphs" >G1/2</text>
<path d="M712.60 342.49L712.83 339.70L713.29 336.91L713.98 334.12L714.90 331.37L716.02 328.67L717.36 326.04L718.88 323.51L720.60 321.10L722.48 318.82L724.51 316.69L726.69 314.73L728.99 312.96L731.39 311.38L733.88 310.02L736.43 308.87L739.03 307.96L741.66 307.28L744.29 306.85L746.91 306.66L749.49 306.72L752.01 307.02L754.46 307.57L756.81 308.36L759.05 309.38L762.38 311.33L764.49 312.58L766.45 314.04L768.25 315.71L769.87 317.58L771.30 319.62L772.53 321.82L773.55 324.16L774.35 326.63L774.93 329.21L775.28 331.87L775.40 334.60L775.28 337.37L774.93 340.17L774.35 342.96L773.55 345.73L772.53 348.46L771.30 351.13L769.87 353.71L768.25 356.18L766.45 358.53L764.49 360.74L762.38 362.78L760.14 364.65L757.79 366.32L755.34 367.80L752.81 369.05L750.23 370.08L747.62 370.88L744.99 371.44L742.36 371.75L739.76 371.81L737.21 371.63L734.72 371.20L732.32 370.53L730.02 369.63L727.84 368.49L724.51 366.55L722.48 365.19L720.60 363.62L718.88 361.85L717.36 359.89L716.02 357.77L714.90 355.50L713.98 353.09L713.29 350.56L712.83 347.94L712.60 345.24Z" stroke-width="1.56" fill="#fff" />
<path d="M775.40 334.60L775.28 337.37L774.93 340.17L774.35 342.96L773.55 345.73L772.53 348.46L771.30 351.13L769.87 353.71L768.25 356.18L766.45 358.53L764.49 360.74L762.38 362.78L760.14 364.65L757.79 366.32L755.34 367.80L752.81 369.05L750.23 370.08L747.62 370.88L744.99 371.44L742.36 371.75L739.76 371.82L737.21 371.63L734.72 371.21L732.31 370.53L730.02 369.63L727.84 368.49L725.80 367.13L723.92 365.56L722.21 363.79L720.68 361.84L719.35 359.71L718.22 357.44L717.31 355.03L716.62 352.50L716.16 349.88L715.92 347.18L715.92 344.43L716.16 341.64L716.62 338.85L717.31 336.06L718.22 333.31L719.35 330.61L720.68 327.98L722.21 325.45L723.92 323.04L725.80 320.76L727.84 318.63L730.02 316.67L732.31 314.90L734.72 313.32L737.21 311.96L739.76 310.81L742.36 309.90L744.99 309.22L747.62 308.79L750.23 308.60L752.81 308.66L755.34 308.96L757.79 309.51L760.14 310.30L762.38 311.33L764.49 312.58L766.45 314.04L768.25 315.71L769.87 317.58L771.30 319.62L772.53 321.82L773.55 324.16L774.35 326.63L774.93 329.21L775.28 331.87L775.40 334.60Z" stroke-width="1.25" fill="#fff" />
<path d="M716.89 344.29L717.12 341.60L717.57 338.89L718.24 336.20L719.12 333.53L720.21 330.92L721.50 328.38L722.98 325.94L724.63 323.60L726.45 321.39L728.42 319.34L730.53 317.44L732.75 315.73L735.08 314.20L737.48 312.88L739.95 311.77L742.47 310.89L745.01 310.23L747.55 309.81L750.08 309.63L752.58 309.69L755.02 309.98L757.39 310.51L759.67 311.28L761.83 312.27L763.87 313.48L765.77 314.90L767.51 316.51L769.08 318.31L770.46 320.29L771.65 322.42L772.64 324.69L773.42 327.08L773.98 329.57L774.31 332.14L774.42 334.78L774.31 337.46L773.98 340.17L773.42 342.87L772.64 345.55L771.65 348.19L770.46 350.77L769.08 353.27L767.51 355.66L765.77 357.93L763.87 360.06L761.83 362.04L759.67 363.85L757.39 365.47L755.02 366.90L752.58 368.11L750.08 369.11L747.55 369.88L745.01 370.42L742.47 370.72L739.95 370.78L737.48 370.61L735.08 370.19L732.75 369.54L730.53 368.67L728.42 367.56L726.45 366.25L724.63 364.73L722.98 363.02L721.50 361.13L720.21 359.08L719.12 356.88L718.24 354.55L717.57 352.10L717.12 349.56L716.89 346.95Z" stroke-width="0.12" fill="#fff" stroke="#fff"/>
<path d="M737.69 347.90L745.58 331.27L761.35 328.13L766.84 331.34L774.72 344.84L766.84 361.47L751.07 364.61L745.58 361.40Z" stroke-width="1.50" fill="#fff" />
<path d="M769.23 341.63L774.72 344.84" stroke-width="1.27" />
<path d="M761.35 358.27L766.84 361.47" stroke-width="1.27" />
<path d="M745.58 361.40L751.07 364.61" stroke-width="1.27" />
<path d="M737.69 347.90L743.18 351.11" stroke-width="1.27" />
<path d="M745.58 331.27L751.07 334.47" stroke-width="1.27" />
<path d="M761.35 328.13L766.84 331.34" stroke-width="1.27" />
<path d="M774.72 344.84L766.84 361.47L751.07 364.61L743.18 351.11L751.07 334.47L766.84 331.34Z" stroke-width="1.50" fill="#fff" />
<path d="M772.30 345.32L772.19 347.31L771.83 349.30L771.24 351.28L770.44 353.20L769.43 355.02L768.23 356.72L766.87 358.26L765.37 359.62L763.75 360.77L762.05 361.69L760.29 362.36L758.51 362.78L756.73 362.94L755.00 362.83L753.33 362.45L751.77 361.82L750.33 360.94L749.05 359.82L747.95 358.50L747.04 356.99L746.34 355.31L745.87 353.51L745.63 351.60L745.63 349.64L745.87 347.64L746.34 345.65L747.04 343.70L747.95 341.82L749.05 340.06L750.33 338.44L751.77 336.98L753.33 335.73L755.00 334.69L756.73 333.89L758.51 333.34L760.29 333.05L762.05 333.03L763.75 333.27L765.37 333.78L766.87 334.54L768.23 335.54L769.43 336.76L770.44 338.18L771.24 339.78L771.83 341.52L772.19 343.38L772.30 345.32Z" stroke-width="1.25" fill="#fff" />
<path d="M746.90 350.13L747.00 348.89L747.20 347.65L747.49 346.41L747.87 345.19L748.35 343.98L748.91 342.82L749.55 341.69L750.28 340.62L751.07 339.60L751.93 338.66L752.85 337.79L753.82 337.00L754.83 336.30L755.88 335.69L756.96 335.18L758.05 334.77L759.16 334.47L760.27 334.28L761.37 334.19L762.46 334.22L763.52 334.36L764.56 334.60L765.55 334.95L769.16 336.44L770.14 336.91L771.07 337.49L771.92 338.17L772.71 338.94L773.42 339.80L774.04 340.74L774.58 341.75L775.03 342.83L775.38 343.97L775.63 345.16L775.78 346.39L775.84 347.65L775.78 348.93L775.63 350.22L775.38 351.50L775.03 352.78L774.58 354.04L774.04 355.27L773.42 356.46L772.71 357.60L771.92 358.69L771.07 359.70L770.14 360.65L769.16 361.51L768.14 362.28L767.07 362.96L765.96 363.54L764.84 364.01L763.69 364.38L762.54 364.64L761.39 364.78L760.26 364.81L759.14 364.73L758.05 364.53L757.00 364.22L756.00 363.80L755.04 363.28L754.15 362.65L751.07 360.23L750.28 359.53L749.55 358.75L748.91 357.88L748.35 356.93L747.87 355.92L747.49 354.85L747.20 353.73L747.00 352.56L746.90 351.36Z" stroke-width="1.50" fill="#fff" />
<path d="M749.84 352.18L749.94 350.90L750.14 349.61L750.44 348.32L750.84 347.05L751.33 345.81L751.92 344.60L752.58 343.43L753.33 342.32L754.15 341.26L755.04 340.28L756.00 339.38L757.00 338.56L758.05 337.84L759.14 337.21L760.26 336.68L761.39 336.26L762.54 335.94L763.69 335.74L764.84 335.66L765.96 335.68L767.07 335.82L768.14 336.08L769.16 336.44L770.14 336.91L783.81 345.04L784.72 345.62L785.57 346.29L786.35 347.05L787.05 347.90L787.67 348.83L788.21 349.84L788.65 350.91L789.00 352.04L789.25 353.22L789.40 354.44L789.45 355.68L789.40 356.95L789.25 358.23L789.00 359.50L788.65 360.77L788.21 362.02L787.67 363.24L787.05 364.42L786.35 365.55L785.57 366.62L784.72 367.63L783.81 368.56L782.84 369.42L781.82 370.19L780.76 370.86L779.66 371.43L778.54 371.90L777.41 372.27L776.27 372.52L775.13 372.67L774.01 372.69L772.90 372.61L771.82 372.42L770.78 372.11L769.78 371.69L768.84 371.18L755.04 363.28L754.15 362.65L753.33 361.93L752.58 361.11L751.92 360.21L751.33 359.23L750.84 358.18L750.44 357.07L750.14 355.91L749.94 354.70L749.84 353.45Z" stroke-width="1.50" fill="#fff" />
<path d="M748.13 351.02L748.23 349.75L748.43 348.49L748.72 347.23L749.11 345.98L749.60 344.75L750.17 343.56L750.83 342.42L751.56 341.33L752.37 340.29L753.25 339.33L754.18 338.44L755.17 337.64L756.20 336.92L757.27 336.31L758.36 335.79L759.48 335.37L760.61 335.07L761.74 334.87L762.86 334.78L763.97 334.81L765.05 334.95L766.10 335.20L767.12 335.56L768.08 336.02L782.93 344.69L783.84 345.26L784.68 345.92L785.46 346.68L786.15 347.52L786.77 348.45L787.29 349.44L787.73 350.50L788.08 351.62L788.33 352.79L788.48 354.00L788.52 355.24L788.48 356.49L788.33 357.76L788.08 359.02L787.73 360.28L787.29 361.51L786.77 362.72L786.15 363.89L785.46 365.01L784.68 366.08L783.84 367.07L782.93 368.00L781.97 368.85L780.96 369.61L779.91 370.27L778.83 370.84L777.72 371.31L776.60 371.67L775.47 371.92L774.34 372.06L773.22 372.10L772.12 372.01L771.06 371.82L770.02 371.51L769.04 371.10L768.10 370.59L753.25 361.92L752.37 361.30L751.56 360.59L750.83 359.79L750.17 358.90L749.60 357.94L749.11 356.91L748.72 355.82L748.43 354.67L748.23 353.49L748.13 352.26Z" stroke-width="0.12" fill="#fff" stroke="#fff"/>
<path d="M696.29 362.43L696.34 361.39L696.44 360.40L696.58 359.45L696.77 358.56L697.00 357.73L697.28 356.97L697.59 356.28L697.94 355.68L698.33 355.16L698.75 354.73L699.20 354.39L699.67 354.15L700.17 354.00L749.85 346.86L750.26 346.82L750.67 346.86L751.10 346.98L751.52 347.17L751.95 347.44L752.38 347.78L752.80 348.19L753.21 348.67L753.61 349.21L753.99 349.82L754.36 350.47L754.70 351.18L755.02 351.92L755.31 352.71L755.58 353.53L755.81 354.37L756.01 355.23L756.17 356.11L756.31 356.99L756.40 357.86L756.46 358.73L756.48 359.58L756.46 360.42L756.40 361.22L756.31 361.98L756.17 362.71L756.01 363.39L755.81 364.02L755.58 364.59L755.31 365.10L755.02 365.54L754.70 365.92L754.36 366.22L753.99 366.45L753.61 366.61L704.93 379.01L704.42 379.11L703.90 379.11L703.37 379.01L702.83 378.81L702.29 378.52L701.75 378.13L701.21 377.66L700.68 377.09L700.17 376.44L699.67 375.72L699.20 374.92L698.75 374.06L698.33 373.14L697.94 372.17L697.59 371.15L697.28 370.10L697.00 369.01L696.77 367.92L696.58 366.80L696.44 365.69L696.34 364.58L696.29 363.49Z" stroke-width="1.50" fill="#fff" />
<path d="M648.38 373.07L648.42 372.25L648.49 371.47L648.61 370.72L648.75 370.02L648.94 369.36L649.15 368.76L649.40 368.22L649.68 367.75L649.99 367.34L650.32 367.00L650.67 366.73L651.05 366.54L651.44 366.42L700.17 354.00L700.68 353.95L701.21 354.00L701.75 354.15L702.29 354.40L702.83 354.74L703.37 355.17L703.90 355.69L704.42 356.30L704.93 356.98L705.41 357.75L705.88 358.58L706.31 359.47L706.72 360.42L707.09 361.41L707.42 362.45L707.72 363.52L707.97 364.61L708.18 365.71L708.35 366.83L708.47 367.94L708.54 369.04L708.56 370.12L708.54 371.17L708.47 372.19L708.35 373.16L708.18 374.08L707.97 374.94L707.72 375.74L707.42 376.46L707.09 377.10L706.72 377.67L706.31 378.14L705.88 378.53L705.41 378.82L704.93 379.01L704.42 379.11L654.80 386.25L654.39 386.24L653.97 386.17L653.54 386.01L653.11 385.78L652.68 385.47L652.26 385.10L651.85 384.65L651.44 384.14L651.05 383.57L650.67 382.94L650.32 382.26L649.99 381.53L649.68 380.76L649.40 379.96L649.15 379.13L648.94 378.27L648.75 377.41L648.61 376.53L648.49 375.65L648.42 374.78L648.38 373.92Z" stroke-width="1.50" fill="#fff" />
<path d="M665.96 362.71L700.16 354.00L749.84 346.86" stroke-width="2.00" fill="none" />
<path d="M702.96 354.83L703.29 355.10L703.61 355.39L703.94 355.73L704.25 356.09L704.57 356.48L704.87 356.90L705.17 357.35L705.46 357.83L705.75 358.33L706.02 358.86L706.28 359.40L706.53 359.97L706.77 360.56L707.00 361.16L707.21 361.78L707.41 362.42L707.60 363.06L707.77 363.72L707.92 364.38L708.06 365.06L708.18 365.73L708.29 366.41L708.38 367.08L708.45 367.76L708.50 368.43L708.54 369.10L708.56 369.76L708.56 370.41L708.54 371.05L708.51 371.67L708.46 372.28L708.39 372.88L708.30 373.45L708.20 374.01L708.08 374.54L707.94 375.06L707.78 375.54L707.62 376.00L707.43 376.43L707.23 376.84L707.02 377.21L706.80 377.56L706.56 377.87L706.31 378.15L706.05 378.39L705.78 378.60L705.49 378.78" stroke-width="1.25" fill="none" />
<path d="M751.63 347.23L752.01 347.48L752.38 347.79L752.75 348.15L753.12 348.56L753.47 349.02L753.82 349.53L754.15 350.08L754.46 350.68L754.76 351.31L755.04 351.97L755.30 352.66L755.53 353.38L755.74 354.12L755.93 354.88L756.09 355.64L756.22 356.41L756.33 357.19L756.41 357.96L756.46 358.72L756.47 359.48L756.46 360.21L756.42 360.93L756.36 361.62L756.26 362.28L756.13 362.91L755.98 363.49L755.80 364.04L755.59 364.55L755.36 365.00L755.11 365.41L754.84 365.76L754.55 366.06L754.24 366.31L753.91 366.49L753.57 366.62L753.22 366.68L752.86 366.69L752.49 366.63L752.12 366.52L751.74 366.34L751.36 366.11L750.98 365.82L750.61 365.47L750.25 365.08L749.89 364.63L749.54 364.13L749.21 363.59" stroke-width="1.25" fill="none" />
<path d="M754.22 345.45L754.65 345.73L755.07 346.08L755.49 346.48L755.91 346.95L756.31 347.47L756.70 348.05L757.07 348.68L757.43 349.35L757.77 350.07L758.08 350.82L758.37 351.60L758.64 352.42L758.88 353.25L759.09 354.11L759.28 354.98L759.43 355.85L759.55 356.73L759.63 357.61L759.69 358.47L759.71 359.33L759.70 360.16L759.65 360.97L759.58 361.75L759.46 362.50L759.32 363.21L759.15 363.88L758.94 364.50L758.71 365.07L758.45 365.59L758.17 366.05L757.86 366.45L757.53 366.79L757.17 367.06L756.81 367.27L756.42 367.42L756.02 367.49L755.61 367.50L755.19 367.43L754.77 367.30L754.34 367.11L753.91 366.84L753.49 366.51L753.07 366.12L752.65 365.67L752.25 365.16L751.85 364.60L751.47 363.99" stroke-width="1.25" fill="none" />
<path d="M664 381.5 L676 379 L710.5 370.8 L754 360 L754.5 367 L725 376.6 L719 385.6 L719 390 L689 393 L664 392Z" stroke-width="0.12" fill="#fff" stroke="#fff"/>
<path d="M664 381.5 L676 379 L703 372.2 L710.5 370.8 L754 360" stroke-width="1.25" fill="none" />
<path d="M725 376.6 L754.5 367.2" stroke-width="1.50" fill="none" />
<path d="M691.2 376 L691.2 391.5 M696.7 374.5 L696.7 392 M704.3 372.5 L704.3 392.3 M710.9 371 L710.9 391 M715.3 370 L715.3 388.5 M720.7 368.5 L720.7 384" stroke-width="1.25" fill="none" />
<path d="M691.2 380.4 L704.3 378.6 M696.7 385.3 L704.3 384.6 M680 378.5 L682 388 M684.5 377.5 L686.5 389" stroke-width="1.12" fill="none" />
<path d="M689 391.5 Q704 393.6 719.2 385.6 L718.4 392.6 Q704 400.6 690 397.4 Z" stroke-width="1.50" fill="#fff" />
<path d="M690 397.4 Q704 400.6 718.4 392.6 Q718 399 715.6 402.8 Q704 408.2 692.8 405.2 Q690.4 402 690 397.4Z" stroke-width="1.50" fill="#fff" />
<path d="M693.2 405.3 Q704 408.2 713.4 403.9 L713.2 409.4 Q704 413.6 693.6 410.4 Z" stroke-width="1.50" fill="#fff" />
<path d="M693.6 406.4 Q704 409.4 713.2 405" stroke-width="2.00" fill="none" />
<path d="M762.76 360.31L762.87 358.95L763.08 357.58L763.40 356.21L763.83 354.87L764.35 353.54L764.97 352.26L765.68 351.02L766.47 349.84L767.35 348.72L768.29 347.68L769.30 346.72L770.37 345.85L771.48 345.08L772.64 344.41L773.82 343.85L775.03 343.40L776.25 343.07L777.47 342.86L778.69 342.76L779.88 342.79L781.06 342.94L782.19 343.21L783.28 343.60L784.33 344.10L785.78 344.95L786.76 345.56L787.67 346.28L788.50 347.10L789.25 348.01L789.92 349.01L790.49 350.09L790.97 351.24L791.34 352.45L791.61 353.71L791.77 355.01L791.82 356.35L791.77 357.71L791.61 359.07L791.34 360.44L790.97 361.80L790.49 363.14L789.92 364.44L789.25 365.71L788.50 366.92L787.67 368.07L786.76 369.15L785.78 370.15L784.74 371.06L783.65 371.89L782.51 372.61L781.34 373.22L780.14 373.73L778.93 374.12L777.70 374.39L776.49 374.54L775.28 374.58L774.09 374.49L772.94 374.28L771.82 373.95L770.75 373.50L769.74 372.95L768.29 372.10L767.35 371.43L766.47 370.66L765.68 369.80L764.97 368.84L764.35 367.80L763.83 366.69L763.40 365.51L763.08 364.27L762.87 362.98L762.76 361.66Z" stroke-width="1.25" fill="#fff" />
<path d="M791.82 356.35L791.77 357.71L791.61 359.07L791.34 360.44L790.97 361.80L790.49 363.14L789.92 364.44L789.26 365.71L788.50 366.92L787.67 368.07L786.76 369.15L785.78 370.15L784.74 371.07L783.65 371.89L782.51 372.61L781.34 373.22L780.14 373.73L778.93 374.12L777.70 374.39L776.48 374.54L775.28 374.58L774.09 374.49L772.94 374.28L771.82 373.95L770.75 373.50L769.74 372.95L768.80 372.28L767.92 371.51L767.13 370.65L766.42 369.69L765.80 368.65L765.28 367.53L764.86 366.35L764.53 365.12L764.32 363.83L764.21 362.51L764.21 361.16L764.32 359.80L764.53 358.43L764.86 357.06L765.28 355.71L765.80 354.39L766.42 353.11L767.13 351.87L767.92 350.69L768.80 349.57L769.74 348.53L770.75 347.57L771.82 346.70L772.94 345.93L774.09 345.26L775.28 344.70L776.48 344.25L777.70 343.92L778.93 343.71L780.14 343.61L781.34 343.64L782.51 343.79L783.65 344.06L784.74 344.45L785.78 344.95L786.76 345.56L787.67 346.28L788.50 347.10L789.26 348.01L789.92 349.01L790.49 350.09L790.97 351.24L791.34 352.45L791.61 353.71L791.77 355.01L791.82 356.35Z" stroke-width="1.25" fill="#fff" />
<path d="M765.45 361.21L765.55 359.94L765.76 358.66L766.05 357.39L766.45 356.13L766.94 354.89L767.52 353.69L768.18 352.54L768.92 351.44L769.74 350.39L770.62 349.42L771.56 348.52L772.56 347.71L773.60 346.99L774.68 346.37L775.78 345.85L776.91 345.43L778.05 345.12L779.19 344.92L780.32 344.83L781.44 344.86L782.53 345.00L783.59 345.25L784.61 345.61L785.58 346.08L786.50 346.65L787.35 347.32L796.07 355.18L796.73 355.82L797.32 356.54L797.84 357.32L798.28 358.17L798.66 359.06L798.95 360.01L799.16 361.00L799.28 362.02L799.33 363.07L799.28 364.13L799.16 365.20L798.95 366.28L798.66 367.34L798.28 368.39L797.84 369.41L797.32 370.40L796.73 371.35L796.07 372.25L795.36 373.10L794.59 373.88L793.78 374.60L792.92 375.24L792.03 375.81L791.11 376.29L790.18 376.68L789.23 376.99L788.27 377.20L787.31 377.32L786.37 377.35L785.44 377.28L784.53 377.11L783.66 376.86L772.56 373.15L771.56 372.73L770.62 372.21L769.74 371.59L768.92 370.87L768.18 370.06L767.52 369.17L766.94 368.20L766.45 367.16L766.05 366.06L765.76 364.90L765.55 363.70L765.45 362.47Z" stroke-width="1.50" fill="#fff" />
<path d="M799.33 363.07L799.28 364.13L799.16 365.20L798.95 366.28L798.66 367.34L798.28 368.39L797.84 369.41L797.32 370.40L796.73 371.35L796.07 372.25L795.36 373.10L794.59 373.88L793.78 374.60L792.92 375.24L792.03 375.81L791.11 376.29L790.18 376.68L789.22 376.99L788.27 377.20L787.31 377.32L786.37 377.35L785.44 377.28L784.53 377.11L783.66 376.86L782.82 376.51L782.03 376.07L781.29 375.55L780.61 374.95L779.98 374.27L779.43 373.52L778.94 372.70L778.53 371.83L778.20 370.91L777.95 369.94L777.78 368.93L777.70 367.90L777.70 366.84L777.78 365.77L777.95 364.70L778.20 363.63L778.53 362.57L778.94 361.54L779.43 360.53L779.98 359.56L780.61 358.63L781.29 357.76L782.03 356.94L782.82 356.19L783.66 355.51L784.53 354.91L785.44 354.38L786.37 353.94L787.31 353.59L788.27 353.33L789.22 353.17L790.18 353.09L791.11 353.12L792.03 353.23L792.92 353.44L793.78 353.75L794.59 354.14L795.36 354.62L796.07 355.18L796.73 355.82L797.32 356.54L797.84 357.32L798.28 358.16L798.66 359.06L798.95 360.01L799.16 361.00L799.28 362.02L799.33 363.07Z" stroke-width="1.50" fill="#fff" />
<path d="M782.18 366.17L782.23 365.54L782.33 364.92L782.48 364.29L782.67 363.67L782.91 363.06L783.20 362.48L783.52 361.91L783.88 361.37L784.28 360.86L784.72 360.38L785.18 359.94L785.67 359.54L786.18 359.19L786.71 358.88L787.25 358.62L787.81 358.42L788.37 358.26L788.93 358.17L789.48 358.12L790.03 358.14L790.57 358.21L791.09 358.33L791.59 358.51L792.07 358.74L795.78 360.90L796.23 361.19L796.65 361.51L797.03 361.89L797.38 362.31L797.68 362.77L797.94 363.26L798.16 363.79L798.33 364.34L798.45 364.92L798.53 365.52L798.55 366.13L798.53 366.75L798.45 367.38L798.33 368.01L798.16 368.63L797.94 369.24L797.68 369.84L797.38 370.42L797.03 370.97L796.65 371.50L796.23 372.00L795.78 372.45L795.31 372.88L794.80 373.25L794.28 373.58L793.75 373.86L793.20 374.10L792.64 374.27L792.08 374.40L791.52 374.47L790.97 374.48L790.43 374.44L789.90 374.35L789.38 374.20L788.90 373.99L788.43 373.74L784.72 371.57L784.28 371.26L783.88 370.91L783.52 370.51L783.20 370.08L782.91 369.60L782.67 369.09L782.48 368.55L782.33 367.98L782.23 367.39L782.18 366.79Z" stroke-width="1.38" fill="#fff" />
<path d="M782.70 368.58L782.77 367.67L782.91 366.75L783.13 365.85L783.41 364.95L783.76 364.06L784.17 363.21L784.65 362.38L785.17 361.59L785.76 360.85L786.39 360.15L787.06 359.52L787.77 358.94L788.52 358.42L789.29 357.98L790.08 357.60L790.88 357.30L791.70 357.08L792.51 356.94L793.32 356.88L794.12 356.90L794.90 357.00L795.66 357.18L796.38 357.44L797.08 357.77L798.21 358.43L798.86 358.84L799.47 359.32L800.02 359.86L800.53 360.47L800.97 361.14L801.35 361.86L801.67 362.62L801.91 363.43L802.09 364.27L802.20 365.14L802.24 366.03L802.20 366.93L802.09 367.85L801.91 368.76L801.67 369.66L801.35 370.56L800.97 371.43L800.53 372.27L800.02 373.07L799.47 373.84L798.86 374.56L798.21 375.23L797.51 375.84L796.79 376.39L796.03 376.87L795.25 377.28L794.45 377.62L793.64 377.88L792.83 378.06L792.01 378.16L791.21 378.18L790.42 378.12L789.65 377.98L788.90 377.76L788.19 377.47L787.52 377.09L786.39 376.43L785.76 375.99L785.17 375.48L784.65 374.90L784.17 374.26L783.76 373.57L783.41 372.83L783.13 372.04L782.91 371.21L782.77 370.36L782.70 369.48Z" stroke-width="1.25" fill="#fff" />
<path d="M802.24 366.03L802.20 366.93L802.09 367.85L801.91 368.76L801.67 369.66L801.35 370.56L800.97 371.43L800.53 372.27L800.02 373.08L799.47 373.84L798.86 374.56L798.21 375.23L797.52 375.84L796.79 376.39L796.03 376.87L795.25 377.28L794.45 377.62L793.64 377.88L792.83 378.06L792.01 378.16L791.21 378.18L790.42 378.12L789.65 377.98L788.90 377.76L788.19 377.47L787.52 377.09L786.89 376.65L786.31 376.14L785.78 375.56L785.30 374.92L784.89 374.23L784.54 373.49L784.26 372.70L784.05 371.87L783.90 371.02L783.83 370.14L783.83 369.24L783.90 368.33L784.05 367.42L784.26 366.51L784.54 365.61L784.89 364.72L785.30 363.87L785.78 363.04L786.31 362.25L786.89 361.51L787.52 360.81L788.19 360.18L788.90 359.60L789.65 359.08L790.42 358.64L791.21 358.26L792.01 357.96L792.83 357.74L793.64 357.60L794.45 357.54L795.25 357.56L796.03 357.66L796.79 357.84L797.52 358.09L798.21 358.43L798.86 358.84L799.47 359.32L800.02 359.86L800.53 360.47L800.97 361.14L801.35 361.85L801.67 362.62L801.91 363.43L802.09 364.27L802.20 365.14L802.24 366.03Z" stroke-width="1.25" fill="#fff" />
<ellipse cx="823.59" cy="367.6" rx="7.2" ry="6.8" stroke-width="1.50" fill="#fff" transform="rotate(-11.2 823.59 367.6)" />
<path d="M818.63 374.46L820.01 374.19L817.96 362.84L816.58 363.12Z" stroke-width="1.25" fill="#fff" />
<path d="M807.06 377.04L808.62 375.77L810.19 374.57L811.82 373.70L814.10 373.11L815.88 373.10L817.46 373.60L818.59 374.20L816.63 363.38L815.79 364.37L814.50 365.44L812.83 366.12L810.50 366.44L808.68 366.26L806.80 365.74L804.91 365.16Z" stroke-width="1.38" fill="#fff" />
<ellipse cx="799.65" cy="397.98" rx="7.2" ry="6.8" stroke-width="1.50" fill="#fff" transform="rotate(90.0 799.65 397.98)" />
<path d="M793.98 391.64L793.98 393.12L805.33 392.99L805.33 391.51Z" stroke-width="1.25" fill="#fff" />
<path d="M793.71 379.20L794.64 381.04L795.49 382.88L796.02 384.72L796.15 387.18L795.82 389.03L795.03 390.58L794.24 391.64L805.06 391.51L804.27 390.48L803.48 388.95L803.15 387.10L803.28 384.64L803.81 382.78L804.67 380.92L805.59 379.07Z" stroke-width="1.38" fill="#fff" />
<path d="M786.04 369.26L786.10 368.52L786.22 367.78L786.39 367.04L786.62 366.31L786.90 365.60L787.24 364.90L787.62 364.23L788.05 363.59L788.52 362.98L789.04 362.42L789.58 361.90L790.16 361.43L790.77 361.01L791.39 360.65L792.03 360.34L792.69 360.10L793.35 359.92L794.01 359.81L794.67 359.76L796.42 359.73L797.14 359.75L797.85 359.84L798.53 360.00L799.19 360.24L799.82 360.54L800.41 360.91L800.96 361.34L801.47 361.84L801.92 362.39L802.33 362.99L802.67 363.64L802.96 364.34L803.18 365.07L803.34 365.83L803.44 366.62L803.47 367.43L803.44 368.25L803.34 369.07L803.18 369.90L802.96 370.72L802.67 371.53L802.33 372.32L801.92 373.08L801.47 373.81L800.96 374.51L800.41 375.16L799.82 375.76L799.19 376.32L798.53 376.81L797.85 377.25L797.14 377.62L796.42 377.93L795.68 378.16L794.94 378.33L794.21 378.42L793.48 378.44L792.76 378.38L792.06 378.26L791.39 378.06L790.75 377.79L790.13 377.45L789.56 377.05L789.04 376.59L788.56 376.06L788.13 375.49L787.75 374.86L786.90 373.32L786.62 372.71L786.39 372.07L786.22 371.40L786.10 370.71L786.04 369.99Z" stroke-width="1.38" fill="#fff" />
<path d="M786.79 370.33L786.86 369.51L786.99 368.68L787.18 367.86L787.44 367.04L787.75 366.24L788.13 365.47L788.56 364.72L789.04 364.00L789.56 363.33L790.13 362.70L790.75 362.12L791.39 361.60L792.06 361.13L792.76 360.73L793.48 360.39L794.21 360.12L794.94 359.92L795.68 359.79L796.42 359.73L797.14 359.75L797.85 359.84L798.53 360.00L799.19 360.24L799.82 360.54L806.93 364.69L807.52 365.06L808.07 365.49L808.57 365.98L809.03 366.54L809.43 367.14L809.78 367.79L810.06 368.48L810.29 369.21L810.45 369.98L810.55 370.76L810.58 371.57L810.55 372.39L810.45 373.22L810.29 374.05L810.06 374.87L809.78 375.68L809.43 376.46L809.03 377.23L808.57 377.96L808.07 378.65L807.52 379.31L806.93 379.91L806.30 380.46L805.64 380.96L804.95 381.40L804.25 381.77L803.52 382.07L802.79 382.31L802.05 382.47L801.31 382.57L800.58 382.58L799.87 382.53L799.17 382.40L798.50 382.21L797.85 381.94L797.24 381.60L790.13 377.45L789.56 377.05L789.04 376.59L788.56 376.06L788.13 375.49L787.75 374.86L787.44 374.18L787.18 373.47L786.99 372.72L786.86 371.95L786.79 371.15Z" stroke-width="1.38" fill="#fff" />
<path d="M786.75 369.51L786.81 368.79L786.92 368.07L787.09 367.36L787.31 366.65L787.59 365.96L787.91 365.28L788.29 364.63L788.70 364.01L789.16 363.42L789.66 362.88L790.19 362.37L790.75 361.92L791.34 361.51L791.94 361.16L792.56 360.87L793.20 360.63L793.84 360.46L794.48 360.35L795.12 360.30L795.75 360.31L796.36 360.39L796.96 360.53L797.53 360.74L805.84 364.50L806.44 364.79L807.01 365.15L807.55 365.57L808.03 366.05L808.47 366.58L808.86 367.16L809.19 367.79L809.47 368.46L809.69 369.17L809.84 369.90L809.94 370.66L809.97 371.44L809.94 372.23L809.84 373.03L809.69 373.83L809.47 374.62L809.19 375.40L808.86 376.16L808.47 376.90L808.03 377.61L807.55 378.28L807.01 378.91L806.44 379.49L805.84 380.03L805.20 380.50L804.54 380.93L803.85 381.29L803.15 381.58L802.45 381.81L801.73 381.97L801.02 382.06L800.32 382.07L799.63 382.02L798.95 381.90L798.30 381.71L797.68 381.45L797.09 381.12L796.54 380.74L789.16 375.35L788.70 374.94L788.29 374.49L787.91 373.99L787.59 373.44L787.31 372.86L787.09 372.24L786.92 371.59L786.81 370.91L786.75 370.22Z" stroke-width="0.12" fill="#fff" stroke="#fff"/>
<path d="M794.40 379.55L792.50 378.97L790.62 378.46L788.80 378.27L786.47 378.60L784.80 379.27L783.51 380.35L782.67 381.34L780.72 370.52L781.84 371.12L783.42 371.62L785.21 371.61L787.48 371.02L789.11 370.15L790.69 368.95L792.25 367.68Z" stroke-width="1.38" fill="#fff" />
<path d="M782.72 381.60L781.34 381.88L779.29 370.53L780.67 370.25Z" stroke-width="1.25" fill="#fff" />
<ellipse cx="775.71" cy="377.12" rx="7.2" ry="6.8" stroke-width="1.50" fill="#fff" transform="rotate(-11.2 775.71 377.12)" />
<path d="M793.71 365.65L794.64 363.79L795.49 361.93L796.02 360.08L796.15 357.62L795.82 355.77L795.03 354.24L794.24 353.20L805.06 353.08L804.27 354.14L803.48 355.68L803.15 357.54L803.28 360.00L803.81 361.84L804.67 363.68L805.59 365.52Z" stroke-width="1.38" fill="#fff" />
<path d="M793.98 353.21L793.98 351.73L805.33 351.60L805.33 353.08Z" stroke-width="1.25" fill="#fff" />
<ellipse cx="799.65" cy="346.73" rx="7.2" ry="6.8" stroke-width="1.50" fill="#fff" transform="rotate(90.0 799.65 346.73)" />
<path d="M790.53 371.67L790.58 370.96L790.69 370.25L790.86 369.54L791.08 368.83L791.35 368.14L791.68 367.47L792.05 366.83L792.46 366.21L792.91 365.63L793.41 365.09L793.93 364.59L794.49 364.14L795.07 363.74L795.67 363.39L796.29 363.09L796.92 362.86L797.55 362.69L798.19 362.58L798.82 362.53L799.45 362.54L800.06 362.62L800.65 362.76L801.22 362.96L806.02 364.99L806.61 365.27L807.15 365.62L807.67 366.02L808.14 366.48L808.56 367.00L808.93 367.56L809.26 368.17L809.52 368.81L809.73 369.49L809.88 370.20L809.97 370.94L810.00 371.69L809.97 372.45L809.88 373.22L809.73 373.99L809.52 374.75L809.26 375.51L808.93 376.24L808.56 376.95L808.14 377.63L807.67 378.28L807.15 378.89L806.61 379.45L806.02 379.96L805.40 380.43L804.77 380.83L804.11 381.18L803.43 381.46L802.75 381.68L802.06 381.84L801.38 381.92L800.70 381.94L800.03 381.89L799.38 381.77L798.75 381.59L798.15 381.34L797.59 381.02L797.05 380.65L792.91 377.46L792.46 377.06L792.05 376.61L791.68 376.11L791.35 375.57L791.08 374.99L790.86 374.37L790.69 373.73L790.58 373.06L790.53 372.37Z" stroke-width="0.12" fill="#fff" stroke="#fff"/>
<ellipse cx="770.88" cy="378.08" rx="2.3" ry="4.4" stroke-width="1.75" fill="#fff" transform="rotate(-10 770.88 378.08)" />
<path d="M796.05 340.89 Q799.65 338.09 803.25 340.89 Q799.65 343.09 796.05 340.89Z" stroke-width="1.25" fill="#333" />
<path d="M794.53 371.45L799.42 365.08L806.34 363.71L808.60 365.03L813.49 369.45L813.49 377.08L808.60 383.45L801.68 384.83L799.42 383.51L794.53 379.08Z" stroke-width="1.25" fill="#fff" />
<path d="M811.23 375.76L813.49 377.08" stroke-width="1.06" />
<path d="M806.34 382.13L808.60 383.45" stroke-width="1.06" />
<path d="M799.42 383.51L801.68 384.83" stroke-width="1.06" />
<path d="M794.53 379.08L796.79 380.40" stroke-width="1.06" />
<path d="M794.53 371.45L796.79 372.77" stroke-width="1.06" />
<path d="M799.42 365.08L801.68 366.40" stroke-width="1.06" />
<path d="M806.34 363.71L808.60 365.03" stroke-width="1.06" />
<path d="M811.23 368.13L813.49 369.45" stroke-width="1.06" />
<path d="M813.49 377.08L808.60 383.45L801.68 384.83L796.79 380.40L796.79 372.77L801.68 366.40L808.60 365.03L813.49 369.45Z" stroke-width="1.25" fill="#fff" />
<path d="M812.16 376.74L808.05 382.09L802.23 383.25L798.12 379.53L798.12 373.12L802.23 367.76L808.05 366.61L812.16 370.32Z" stroke-width="3.00" fill="#fff" stroke="#222"/>
<path d="M810.49 373.86L810.45 374.66L810.30 375.46L810.07 376.25L809.75 377.02L809.34 377.75L808.86 378.43L808.32 379.05L807.71 379.60L807.07 380.06L806.38 380.43L805.68 380.70L804.96 380.87L804.25 380.93L803.56 380.88L802.89 380.73L802.26 380.48L801.69 380.12L801.17 379.68L800.73 379.15L800.36 378.54L800.09 377.87L799.90 377.15L799.80 376.38L799.80 375.59L799.90 374.79L800.09 374.00L800.36 373.21L800.73 372.46L801.17 371.76L801.69 371.10L802.26 370.52L802.89 370.02L803.56 369.60L804.25 369.28L804.96 369.06L805.68 368.95L806.38 368.94L807.07 369.03L807.71 369.24L808.32 369.54L808.86 369.94L809.34 370.43L809.75 371.00L810.07 371.64L810.30 372.34L810.45 373.09L810.49 373.86Z" stroke-width="1.25" fill="#fff" />
<text x="805.34" y="377.63" font-size="8.5" text-anchor="middle" font-weight="bold" textLength="4.6" lengthAdjust="spacingAndGlyphs" style="stroke:#111;stroke-width:0.5px">C</text>
<path d="M580.81 368.69L581.04 365.90L581.50 363.10L582.19 360.32L583.11 357.56L584.23 354.86L585.57 352.24L587.09 349.71L588.81 347.30L590.69 345.02L592.72 342.89L594.90 340.93L597.20 339.16L599.60 337.58L602.09 336.21L604.64 335.07L607.24 334.16L609.87 333.48L612.50 333.04L615.12 332.86L617.70 332.91L620.22 333.22L622.67 333.77L625.02 334.56L627.26 335.58L630.59 337.52L632.70 338.77L634.66 340.24L636.46 341.91L638.08 343.77L639.51 345.81L640.74 348.01L641.76 350.36L642.56 352.83L643.14 355.41L643.49 358.07L643.61 360.80L643.49 363.57L643.14 366.36L642.56 369.16L641.76 371.93L640.74 374.66L639.51 377.33L638.08 379.90L636.46 382.38L634.66 384.73L632.70 386.93L630.59 388.98L628.35 390.85L626.00 392.52L623.55 394.00L621.02 395.25L618.45 396.28L615.83 397.08L613.20 397.63L610.57 397.95L607.97 398.01L605.42 397.83L602.93 397.40L600.52 396.73L598.23 395.82L596.05 394.69L592.72 392.74L590.69 391.38L588.81 389.81L587.09 388.05L585.57 386.09L584.23 383.97L583.11 381.69L582.19 379.29L581.50 376.76L581.04 374.14L580.81 371.44Z" stroke-width="1.56" fill="#fff" />
<path d="M643.61 360.80L643.49 363.57L643.14 366.36L642.56 369.16L641.76 371.93L640.74 374.66L639.51 377.33L638.08 379.91L636.46 382.38L634.66 384.73L632.70 386.93L630.59 388.98L628.35 390.85L626.00 392.52L623.55 393.99L621.02 395.25L618.44 396.28L615.83 397.08L613.20 397.63L610.57 397.95L607.97 398.01L605.42 397.83L602.93 397.40L600.53 396.73L598.23 395.82L596.05 394.69L594.01 393.33L592.13 391.76L590.42 389.99L588.89 388.03L587.56 385.91L586.43 383.64L585.52 381.23L584.83 378.70L584.37 376.08L584.13 373.38L584.13 370.63L584.37 367.84L584.83 365.04L585.52 362.26L586.43 359.50L587.56 356.80L588.89 354.18L590.42 351.65L592.13 349.24L594.01 346.96L596.05 344.83L598.23 342.87L600.53 341.10L602.93 339.52L605.42 338.16L607.97 337.01L610.57 336.10L613.20 335.42L615.83 334.99L618.44 334.80L621.02 334.85L623.55 335.16L626.00 335.71L628.35 336.50L630.59 337.52L632.70 338.77L634.66 340.24L636.46 341.91L638.08 343.77L639.51 345.81L640.74 348.02L641.76 350.36L642.56 352.83L643.14 355.41L643.49 358.07L643.61 360.80Z" stroke-width="1.25" fill="#fff" />
<path d="M585.11 370.49L585.33 367.80L585.78 365.09L586.45 362.39L587.33 359.73L588.42 357.12L589.71 354.58L591.19 352.13L592.84 349.80L594.66 347.59L596.63 345.54L598.74 343.64L600.96 341.93L603.28 340.40L605.69 339.08L608.16 337.97L610.68 337.09L613.22 336.43L615.76 336.01L618.29 335.83L620.79 335.88L623.23 336.18L625.60 336.71L627.88 337.48L630.04 338.47L632.08 339.68L633.98 341.10L635.72 342.71L637.29 344.51L638.67 346.49L639.86 348.62L640.85 350.88L641.63 353.27L642.18 355.77L642.52 358.34L642.63 360.98L642.52 363.66L642.18 366.37L641.63 369.07L640.85 371.75L639.86 374.39L638.67 376.97L637.29 379.46L635.72 381.86L633.98 384.13L632.08 386.26L630.04 388.24L627.88 390.05L625.60 391.67L623.23 393.09L620.79 394.31L618.29 395.31L615.76 396.08L613.22 396.62L610.68 396.92L608.16 396.98L605.69 396.80L603.28 396.39L600.96 395.74L598.74 394.86L596.63 393.76L594.66 392.45L592.84 390.93L591.19 389.22L589.71 387.33L588.42 385.27L587.33 383.07L586.45 380.74L585.78 378.30L585.33 375.76L585.11 373.15Z" stroke-width="0.12" fill="#fff" stroke="#fff"/>
<path d="M605.90 374.10L613.79 357.46L629.56 354.33L635.05 357.54L642.93 371.04L635.05 387.67L619.28 390.81L613.79 387.60Z" stroke-width="1.50" fill="#fff" />
<path d="M637.44 367.83L642.93 371.04" stroke-width="1.27" />
<path d="M629.56 384.47L635.05 387.67" stroke-width="1.27" />
<path d="M613.79 387.60L619.28 390.81" stroke-width="1.27" />
<path d="M605.90 374.10L611.39 377.30" stroke-width="1.27" />
<path d="M613.79 357.46L619.28 360.67" stroke-width="1.27" />
<path d="M629.56 354.33L635.05 357.53" stroke-width="1.27" />
<path d="M642.93 371.04L635.05 387.67L619.28 390.81L611.39 377.30L619.28 360.67L635.05 357.53Z" stroke-width="1.50" fill="#fff" />
<path d="M640.51 371.52L640.40 373.50L640.04 375.50L639.46 377.48L638.65 379.39L637.64 381.22L636.45 382.91L635.08 384.46L633.58 385.81L631.96 386.96L630.26 387.89L628.50 388.56L626.72 388.98L624.94 389.14L623.21 389.03L621.54 388.65L619.98 388.02L618.54 387.13L617.26 386.02L616.16 384.70L615.25 383.18L614.55 381.51L614.08 379.71L613.84 377.80L613.84 375.83L614.08 373.84L614.55 371.84L615.25 369.89L616.16 368.02L617.26 366.26L618.54 364.63L619.98 363.18L621.54 361.92L623.21 360.89L624.94 360.08L626.72 359.53L628.50 359.25L630.26 359.22L631.96 359.47L633.58 359.98L635.08 360.74L636.45 361.73L637.64 362.96L638.65 364.38L639.46 365.98L640.04 367.72L640.40 369.58L640.51 371.52Z" stroke-width="1.25" fill="#fff" />
<path d="M615.11 376.33L615.21 375.09L615.41 373.85L615.70 372.61L616.08 371.38L616.56 370.18L617.12 369.01L617.76 367.89L618.49 366.81L619.28 365.80L620.14 364.86L621.06 363.98L622.03 363.19L623.04 362.49L624.09 361.89L625.17 361.38L626.26 360.97L627.37 360.67L628.48 360.48L629.58 360.39L630.67 360.42L631.74 360.55L632.77 360.80L633.76 361.15L637.38 362.64L638.36 363.11L639.28 363.69L640.13 364.37L640.92 365.13L641.63 366.00L642.25 366.94L642.79 367.95L643.24 369.03L643.59 370.17L643.84 371.36L644.00 372.59L644.05 373.85L644.00 375.12L643.84 376.41L643.59 377.70L643.24 378.98L642.79 380.24L642.25 381.47L641.63 382.66L640.92 383.80L640.13 384.88L639.28 385.90L638.36 386.84L637.38 387.70L636.35 388.48L635.28 389.16L634.17 389.74L633.04 390.21L631.90 390.58L630.75 390.84L629.60 390.98L628.47 391.01L627.35 390.93L626.26 390.73L625.21 390.42L624.21 390.00L623.25 389.48L622.37 388.85L619.28 386.43L618.49 385.73L617.76 384.94L617.12 384.08L616.56 383.13L616.08 382.12L615.70 381.05L615.41 379.92L615.21 378.76L615.11 377.56Z" stroke-width="1.50" fill="#fff" />
<path d="M618.05 378.38L618.15 377.10L618.35 375.81L618.65 374.52L619.05 373.25L619.54 372.00L620.13 370.79L620.79 369.63L621.54 368.51L622.37 367.46L623.25 366.48L624.21 365.58L625.21 364.76L626.26 364.03L627.35 363.40L628.47 362.88L629.60 362.45L630.75 362.14L631.90 361.94L633.04 361.85L634.17 361.88L635.28 362.02L636.35 362.27L637.38 362.64L638.36 363.11L652.02 371.24L652.93 371.81L653.78 372.48L654.56 373.25L655.26 374.10L655.88 375.03L656.42 376.04L656.86 377.11L657.21 378.24L657.46 379.42L657.61 380.63L657.66 381.88L657.61 383.15L657.46 384.43L657.21 385.70L656.86 386.97L656.42 388.22L655.88 389.44L655.26 390.62L654.56 391.75L653.78 392.82L652.93 393.83L652.02 394.76L651.05 395.62L650.03 396.38L648.97 397.06L647.87 397.63L646.75 398.10L645.62 398.47L644.48 398.72L643.34 398.86L642.22 398.89L641.11 398.81L640.03 398.61L638.99 398.31L638.00 397.89L637.05 397.37L623.25 389.48L622.37 388.85L621.54 388.12L620.79 387.31L620.13 386.41L619.54 385.43L619.05 384.38L618.65 383.27L618.35 382.10L618.15 380.89L618.05 379.65Z" stroke-width="1.50" fill="#fff" />
<path d="M616.34 377.21L616.44 375.95L616.64 374.69L616.93 373.42L617.33 372.18L617.81 370.95L618.38 369.76L619.04 368.62L619.77 367.52L620.58 366.49L621.46 365.53L622.39 364.64L623.38 363.84L624.41 363.12L625.48 362.50L626.57 361.99L627.69 361.57L628.82 361.26L629.95 361.07L631.07 360.98L632.18 361.01L633.26 361.15L634.32 361.39L635.33 361.75L636.29 362.22L651.14 370.89L652.05 371.45L652.89 372.12L653.66 372.88L654.36 373.72L654.98 374.64L655.50 375.64L655.94 376.70L656.29 377.82L656.54 378.99L656.68 380.20L656.74 381.43L656.68 382.69L656.54 383.95L656.29 385.22L655.94 386.48L655.50 387.71L654.98 388.92L654.36 390.09L653.66 391.21L652.89 392.27L652.05 393.27L651.14 394.20L650.18 395.05L649.17 395.81L648.12 396.47L647.04 397.04L645.93 397.51L644.81 397.87L643.68 398.12L642.55 398.26L641.43 398.29L640.34 398.21L639.27 398.02L638.24 397.71L637.25 397.30L636.31 396.79L621.46 388.11L620.58 387.50L619.77 386.79L619.04 385.99L618.38 385.10L617.81 384.14L617.33 383.11L616.93 382.02L616.64 380.87L616.44 379.68L616.34 378.46Z" stroke-width="0.12" fill="#fff" stroke="#fff"/>
<path d="M630.97 386.51L631.08 385.15L631.29 383.78L631.61 382.41L632.04 381.06L632.56 379.74L633.18 378.46L633.89 377.22L634.68 376.04L635.55 374.92L636.50 373.88L637.51 372.92L638.58 372.05L639.69 371.28L640.85 370.61L642.03 370.05L643.24 369.60L644.46 369.27L645.68 369.06L646.90 368.96L648.10 368.99L649.27 369.14L650.40 369.41L651.50 369.80L652.53 370.30L653.99 371.15L654.97 371.76L655.88 372.48L656.71 373.30L657.47 374.21L658.13 375.21L658.70 376.29L659.18 377.43L659.55 378.64L659.82 379.90L659.98 381.21L660.03 382.55L659.98 383.90L659.82 385.27L659.55 386.64L659.18 388.00L658.70 389.34L658.13 390.64L657.47 391.90L656.71 393.12L655.88 394.27L654.97 395.35L653.99 396.35L652.95 397.26L651.86 398.08L650.72 398.81L649.55 399.42L648.35 399.93L647.14 400.32L645.91 400.59L644.70 400.74L643.49 400.77L642.30 400.68L641.15 400.48L640.03 400.15L638.96 399.70L637.95 399.14L636.50 398.30L635.55 397.63L634.68 396.86L633.89 395.99L633.18 395.04L632.56 394.00L632.04 392.88L631.61 391.70L631.29 390.47L631.08 389.18L630.97 387.86Z" stroke-width="1.25" fill="#fff" />
<path d="M660.03 382.55L659.98 383.90L659.82 385.27L659.55 386.64L659.18 388.00L658.70 389.34L658.13 390.64L657.47 391.90L656.71 393.12L655.88 394.27L654.97 395.35L653.99 396.35L652.95 397.26L651.86 398.08L650.72 398.81L649.55 399.42L648.35 399.93L647.14 400.32L645.91 400.59L644.70 400.74L643.49 400.77L642.30 400.68L641.15 400.47L640.03 400.15L638.96 399.70L637.95 399.14L637.01 398.48L636.14 397.71L635.34 396.84L634.63 395.89L634.01 394.85L633.49 393.73L633.07 392.55L632.74 391.31L632.53 390.03L632.42 388.71L632.42 387.36L632.53 386.00L632.74 384.63L633.07 383.26L633.49 381.91L634.01 380.59L634.63 379.30L635.34 378.07L636.14 376.88L637.01 375.77L637.95 374.73L638.96 373.77L640.03 372.90L641.15 372.13L642.30 371.46L643.49 370.90L644.70 370.45L645.91 370.12L647.14 369.90L648.35 369.81L649.55 369.84L650.72 369.99L651.86 370.26L652.95 370.64L653.99 371.15L654.97 371.76L655.88 372.48L656.71 373.30L657.47 374.21L658.13 375.21L658.70 376.28L659.18 377.43L659.55 378.64L659.82 379.91L659.98 381.21L660.03 382.55Z" stroke-width="1.25" fill="#fff" />
<path d="M633.66 387.41L633.76 386.14L633.97 384.86L634.26 383.58L634.66 382.33L635.15 381.09L635.73 379.89L636.39 378.74L637.13 377.63L637.95 376.59L638.83 375.62L639.77 374.72L640.77 373.91L641.81 373.19L642.89 372.57L643.99 372.04L645.12 371.63L646.26 371.32L647.40 371.12L648.53 371.03L649.65 371.06L650.74 371.20L651.80 371.45L652.82 371.81L653.79 372.28L654.71 372.85L655.56 373.52L664.28 381.38L664.94 382.02L665.53 382.74L666.05 383.52L666.50 384.36L666.87 385.26L667.16 386.21L667.37 387.20L667.50 388.22L667.54 389.27L667.50 390.33L667.37 391.40L667.16 392.47L666.87 393.54L666.50 394.59L666.05 395.61L665.53 396.60L664.94 397.55L664.28 398.45L663.57 399.29L662.80 400.08L661.99 400.80L661.13 401.44L660.24 402.00L659.33 402.49L658.39 402.88L657.43 403.19L656.48 403.40L655.52 403.52L654.58 403.55L653.65 403.48L652.74 403.31L651.87 403.05L640.77 399.34L639.77 398.93L638.83 398.41L637.95 397.79L637.13 397.07L636.39 396.26L635.73 395.37L635.15 394.40L634.66 393.36L634.26 392.26L633.97 391.10L633.76 389.90L633.66 388.67Z" stroke-width="1.50" fill="#fff" />
<path d="M667.54 389.27L667.49 390.33L667.37 391.40L667.16 392.47L666.87 393.54L666.50 394.59L666.05 395.61L665.53 396.60L664.94 397.55L664.28 398.45L663.57 399.29L662.80 400.08L661.99 400.80L661.13 401.44L660.24 402.00L659.32 402.49L658.39 402.88L657.44 403.19L656.48 403.40L655.52 403.52L654.58 403.55L653.65 403.48L652.74 403.31L651.87 403.05L651.03 402.71L650.24 402.27L649.50 401.75L648.82 401.14L648.20 400.47L647.64 399.72L647.15 398.90L646.74 398.03L646.41 397.10L646.16 396.14L645.99 395.13L645.91 394.09L645.91 393.04L645.99 391.97L646.16 390.90L646.41 389.83L646.74 388.77L647.15 387.73L647.64 386.73L648.20 385.76L648.82 384.83L649.50 383.96L650.24 383.14L651.03 382.39L651.87 381.71L652.74 381.10L653.65 380.58L654.58 380.14L655.52 379.79L656.48 379.53L657.44 379.36L658.39 379.29L659.32 379.31L660.24 379.43L661.13 379.64L661.99 379.94L662.80 380.34L663.57 380.82L664.28 381.38L664.94 382.02L665.53 382.74L666.05 383.52L666.50 384.36L666.87 385.26L667.16 386.21L667.37 387.20L667.49 388.22L667.54 389.27Z" stroke-width="1.50" fill="#fff" />
<path d="M650.39 392.37L650.44 391.74L650.54 391.11L650.69 390.49L650.88 389.87L651.12 389.26L651.41 388.67L651.73 388.11L652.10 387.56L652.50 387.05L652.93 386.57L653.39 386.13L653.88 385.74L654.39 385.38L654.92 385.08L655.47 384.82L656.02 384.61L656.58 384.46L657.14 384.36L657.69 384.32L658.24 384.33L658.78 384.40L659.30 384.53L659.80 384.70L660.28 384.93L663.99 387.10L664.44 387.38L664.86 387.71L665.24 388.09L665.59 388.50L665.89 388.96L666.15 389.46L666.37 389.98L666.54 390.54L666.66 391.12L666.74 391.71L666.76 392.33L666.74 392.95L666.66 393.58L666.54 394.20L666.37 394.83L666.15 395.44L665.89 396.04L665.59 396.62L665.24 397.17L664.86 397.70L664.44 398.19L663.99 398.65L663.52 399.07L663.02 399.45L662.50 399.78L661.96 400.06L661.41 400.29L660.85 400.47L660.29 400.60L659.73 400.67L659.18 400.68L658.64 400.64L658.11 400.54L657.60 400.39L657.11 400.19L656.64 399.93L652.93 397.77L652.50 397.46L652.10 397.11L651.73 396.71L651.41 396.27L651.12 395.80L650.88 395.29L650.69 394.75L650.54 394.18L650.44 393.59L650.39 392.98Z" stroke-width="1.38" fill="#fff" />
<path d="M650.91 394.78L650.98 393.87L651.13 392.95L651.34 392.04L651.62 391.14L651.97 390.26L652.38 389.40L652.86 388.58L653.39 387.79L653.97 387.05L654.60 386.35L655.27 385.71L655.98 385.13L656.73 384.62L657.50 384.17L658.29 383.80L659.09 383.50L659.91 383.28L660.72 383.14L661.53 383.08L662.33 383.10L663.11 383.19L663.87 383.37L664.60 383.63L665.29 383.97L666.42 384.63L667.07 385.04L667.68 385.51L668.24 386.06L668.74 386.67L669.18 387.33L669.56 388.05L669.88 388.82L670.12 389.62L670.30 390.47L670.41 391.33L670.45 392.23L670.41 393.13L670.30 394.04L670.12 394.96L669.88 395.86L669.56 396.75L669.18 397.62L668.74 398.46L668.24 399.27L667.68 400.04L667.07 400.76L666.42 401.43L665.73 402.04L665.00 402.58L664.24 403.07L663.46 403.48L662.66 403.81L661.85 404.07L661.04 404.25L660.22 404.36L659.42 404.38L658.63 404.32L657.86 404.18L657.11 403.96L656.40 403.66L655.73 403.29L654.60 402.63L653.97 402.19L653.39 401.68L652.86 401.10L652.38 400.46L651.97 399.77L651.62 399.02L651.34 398.24L651.13 397.41L650.98 396.56L650.91 395.68Z" stroke-width="1.25" fill="#fff" />
<path d="M670.45 392.23L670.41 393.13L670.30 394.04L670.13 394.96L669.88 395.86L669.56 396.75L669.18 397.62L668.74 398.47L668.23 399.27L667.68 400.04L667.07 400.76L666.42 401.43L665.73 402.04L665.00 402.59L664.24 403.07L663.46 403.48L662.66 403.81L661.85 404.07L661.04 404.25L660.22 404.36L659.42 404.38L658.63 404.32L657.86 404.18L657.11 403.96L656.40 403.66L655.73 403.29L655.10 402.85L654.52 402.33L653.99 401.76L653.51 401.12L653.10 400.43L652.75 399.68L652.47 398.90L652.26 398.07L652.11 397.22L652.04 396.33L652.04 395.44L652.11 394.53L652.26 393.61L652.47 392.70L652.75 391.80L653.10 390.92L653.51 390.07L653.99 389.24L654.52 388.45L655.10 387.71L655.73 387.01L656.40 386.37L657.11 385.79L657.86 385.28L658.63 384.83L659.42 384.46L660.22 384.16L661.04 383.94L661.85 383.80L662.66 383.74L663.46 383.75L664.24 383.85L665.00 384.03L665.73 384.29L666.42 384.63L667.07 385.03L667.68 385.51L668.23 386.06L668.74 386.67L669.18 387.33L669.56 388.05L669.88 388.82L670.13 389.62L670.30 390.47L670.41 391.34L670.45 392.23Z" stroke-width="1.25" fill="#fff" />
<ellipse cx="691.8" cy="393.8" rx="7.2" ry="6.8" stroke-width="1.50" fill="#fff" transform="rotate(-11.2 691.8 393.8)" />
<path d="M686.84 400.66L688.23 400.39L686.17 389.04L684.79 389.31Z" stroke-width="1.25" fill="#fff" />
<path d="M675.27 403.23L676.83 401.97L678.40 400.77L680.03 399.90L682.31 399.31L684.09 399.29L685.67 399.80L686.80 400.40L684.84 389.58L684.00 390.56L682.71 391.64L681.04 392.31L678.71 392.64L676.89 392.45L675.01 391.94L673.12 391.36Z" stroke-width="1.38" fill="#fff" />
<ellipse cx="667.86" cy="424.18" rx="7.2" ry="6.8" stroke-width="1.50" fill="#fff" transform="rotate(90.0 667.86 424.18)" />
<path d="M662.19 417.84L662.19 419.32L673.54 419.19L673.54 417.71Z" stroke-width="1.25" fill="#fff" />
<path d="M661.92 405.40L662.85 407.24L663.70 409.07L664.23 410.92L664.36 413.38L664.03 415.23L663.24 416.78L662.45 417.83L673.27 417.71L672.48 416.67L671.69 415.14L671.36 413.30L671.49 410.83L672.02 408.98L672.88 407.12L673.80 405.26Z" stroke-width="1.38" fill="#fff" />
<path d="M654.25 395.46L654.31 394.72L654.42 393.98L654.60 393.24L654.83 392.51L655.11 391.79L655.45 391.10L655.83 390.43L656.26 389.79L656.74 389.18L657.25 388.62L657.79 388.10L658.37 387.63L658.98 387.21L659.60 386.85L660.24 386.54L660.90 386.30L661.56 386.12L662.22 386.00L662.88 385.95L664.63 385.93L665.35 385.95L666.06 386.04L666.75 386.20L667.40 386.43L668.03 386.74L668.62 387.11L669.17 387.54L669.68 388.03L670.13 388.58L670.53 389.19L670.88 389.84L671.17 390.53L671.39 391.26L671.55 392.03L671.65 392.82L671.68 393.62L671.65 394.44L671.55 395.27L671.39 396.10L671.17 396.92L670.88 397.73L670.53 398.51L670.13 399.28L669.68 400.01L669.17 400.70L668.62 401.36L668.03 401.96L667.40 402.51L666.75 403.01L666.06 403.45L665.35 403.82L664.63 404.12L663.89 404.36L663.15 404.52L662.42 404.62L661.69 404.63L660.97 404.58L660.27 404.45L659.60 404.26L658.96 403.99L658.35 403.65L657.77 403.25L657.25 402.78L656.77 402.26L656.34 401.68L655.96 401.06L655.11 399.51L654.83 398.91L654.60 398.27L654.42 397.60L654.31 396.91L654.25 396.19Z" stroke-width="1.38" fill="#fff" />
<path d="M655.00 396.53L655.07 395.71L655.20 394.88L655.39 394.06L655.65 393.24L655.96 392.44L656.34 391.67L656.77 390.92L657.25 390.20L657.77 389.53L658.35 388.90L658.96 388.32L659.60 387.79L660.27 387.33L660.97 386.92L661.69 386.58L662.42 386.31L663.15 386.11L663.89 385.99L664.63 385.93L665.35 385.95L666.06 386.04L666.75 386.20L667.40 386.43L668.03 386.74L675.14 390.88L675.73 391.25L676.28 391.69L676.78 392.18L677.24 392.73L677.64 393.34L677.99 393.99L678.27 394.68L678.50 395.41L678.66 396.18L678.76 396.96L678.79 397.77L678.76 398.59L678.66 399.42L678.50 400.24L678.27 401.06L677.99 401.87L677.64 402.66L677.24 403.42L676.78 404.16L676.28 404.85L675.73 405.50L675.14 406.11L674.51 406.66L673.85 407.16L673.16 407.59L672.46 407.96L671.73 408.27L671.00 408.51L670.26 408.67L669.52 408.76L668.79 408.78L668.08 408.73L667.38 408.60L666.71 408.40L666.06 408.13L665.45 407.80L658.35 403.65L657.77 403.25L657.25 402.78L656.77 402.26L656.34 401.68L655.96 401.06L655.65 400.38L655.39 399.67L655.20 398.92L655.07 398.14L655.00 397.35Z" stroke-width="1.38" fill="#fff" />
<path d="M654.97 395.71L655.02 394.99L655.13 394.27L655.30 393.56L655.52 392.85L655.80 392.15L656.12 391.48L656.50 390.83L656.91 390.21L657.37 389.62L657.87 389.07L658.40 388.57L658.96 388.12L659.54 387.71L660.15 387.36L660.77 387.06L661.41 386.83L662.05 386.65L662.69 386.54L663.33 386.49L663.96 386.51L664.57 386.59L665.17 386.73L665.74 386.93L674.05 390.70L674.65 390.99L675.23 391.35L675.76 391.76L676.24 392.24L676.68 392.77L677.07 393.36L677.40 393.99L677.68 394.66L677.90 395.36L678.05 396.10L678.15 396.86L678.18 397.64L678.15 398.43L678.05 399.23L677.90 400.03L677.68 400.82L677.40 401.60L677.07 402.36L676.68 403.10L676.24 403.81L675.76 404.48L675.23 405.11L674.65 405.69L674.05 406.22L673.41 406.70L672.75 407.12L672.06 407.48L671.37 407.78L670.66 408.00L669.94 408.16L669.23 408.25L668.53 408.27L667.84 408.22L667.16 408.10L666.51 407.91L665.89 407.65L665.30 407.32L664.75 406.93L657.37 401.55L656.91 401.14L656.50 400.69L656.12 400.18L655.80 399.64L655.52 399.05L655.30 398.43L655.13 397.78L655.02 397.11L654.97 396.42Z" stroke-width="0.12" fill="#fff" stroke="#fff"/>
<path d="M662.61 405.75L660.71 405.17L658.83 404.66L657.01 404.47L654.68 404.80L653.02 405.47L651.72 406.55L650.88 407.53L648.93 396.72L650.05 397.31L651.63 397.82L653.42 397.81L655.69 397.22L657.33 396.34L658.90 395.14L660.46 393.88Z" stroke-width="1.38" fill="#fff" />
<path d="M650.93 407.80L649.55 408.07L647.50 396.73L648.88 396.45Z" stroke-width="1.25" fill="#fff" />
<ellipse cx="643.92" cy="403.31" rx="7.2" ry="6.8" stroke-width="1.50" fill="#fff" transform="rotate(-11.2 643.92 403.31)" />
<path d="M661.92 391.85L662.85 389.99L663.70 388.13L664.23 386.28L664.36 383.81L664.03 381.97L663.24 380.44L662.45 379.40L673.27 379.28L672.48 380.33L671.69 381.88L671.36 383.73L671.49 386.20L672.02 388.04L672.88 389.88L673.80 391.71Z" stroke-width="1.38" fill="#fff" />
<path d="M662.19 379.40L662.19 377.92L673.54 377.80L673.54 379.27Z" stroke-width="1.25" fill="#fff" />
<ellipse cx="667.86" cy="372.93" rx="7.2" ry="6.8" stroke-width="1.50" fill="#fff" transform="rotate(90.0 667.86 372.93)" />
<path d="M658.74 397.87L658.79 397.16L658.90 396.44L659.07 395.73L659.29 395.03L659.57 394.34L659.89 393.67L660.26 393.03L660.67 392.41L661.12 391.83L661.62 391.29L662.14 390.79L662.70 390.33L663.28 389.93L663.88 389.58L664.50 389.29L665.13 389.06L665.76 388.89L666.40 388.77L667.03 388.73L667.66 388.74L668.27 388.82L668.86 388.96L669.43 389.16L674.23 391.19L674.82 391.47L675.37 391.82L675.88 392.22L676.35 392.68L676.77 393.19L677.14 393.76L677.47 394.36L677.73 395.01L677.94 395.69L678.09 396.40L678.18 397.13L678.22 397.88L678.18 398.65L678.09 399.42L677.94 400.19L677.73 400.95L677.47 401.70L677.14 402.44L676.77 403.15L676.35 403.83L675.88 404.48L675.37 405.08L674.82 405.65L674.23 406.16L673.62 406.62L672.98 407.03L672.32 407.38L671.64 407.66L670.96 407.88L670.27 408.03L669.59 408.12L668.91 408.14L668.24 408.09L667.59 407.97L666.96 407.79L666.36 407.53L665.80 407.22L665.26 406.85L661.12 403.66L660.67 403.26L660.26 402.81L659.89 402.31L659.57 401.77L659.29 401.19L659.07 400.57L658.90 399.93L658.79 399.26L658.74 398.57Z" stroke-width="0.12" fill="#fff" stroke="#fff"/>
<ellipse cx="639.09" cy="404.28" rx="2.3" ry="4.4" stroke-width="1.75" fill="#fff" transform="rotate(-10 639.09 404.28)" />
<path d="M664.26 367.09 Q667.86 364.29 671.46 367.09 Q667.86 369.29 664.26 367.09Z" stroke-width="1.25" fill="#333" />
<path d="M662.74 397.65L667.63 391.28L674.55 389.91L676.81 391.23L681.70 395.65L681.70 403.28L676.81 409.65L669.89 411.02L667.63 409.70L662.74 405.28Z" stroke-width="1.25" fill="#fff" />
<path d="M679.44 401.96L681.70 403.28" stroke-width="1.06" />
<path d="M674.55 408.33L676.81 409.65" stroke-width="1.06" />
<path d="M667.63 409.70L669.89 411.02" stroke-width="1.06" />
<path d="M662.74 405.28L665.00 406.60" stroke-width="1.06" />
<path d="M662.74 397.65L665.00 398.97" stroke-width="1.06" />
<path d="M667.63 391.28L669.89 392.60" stroke-width="1.06" />
<path d="M674.55 389.91L676.81 391.23" stroke-width="1.06" />
<path d="M679.44 394.33L681.70 395.65" stroke-width="1.06" />
<path d="M681.70 403.28L676.81 409.65L669.89 411.02L665.00 406.60L665.00 398.97L669.89 392.60L676.81 391.23L681.70 395.65Z" stroke-width="1.25" fill="#fff" />
<path d="M680.37 402.94L676.26 408.29L670.45 409.45L666.33 405.73L666.33 399.31L670.45 393.96L676.26 392.80L680.37 396.52Z" stroke-width="3.00" fill="#fff" stroke="#222"/>
<path d="M678.70 400.06L678.66 400.86L678.51 401.66L678.28 402.45L677.96 403.22L677.55 403.95L677.07 404.63L676.53 405.25L675.92 405.79L675.28 406.25L674.59 406.62L673.89 406.89L673.17 407.06L672.46 407.13L671.77 407.08L671.10 406.93L670.47 406.68L669.90 406.32L669.38 405.88L668.94 405.34L668.58 404.74L668.30 404.07L668.11 403.34L668.01 402.58L668.01 401.79L668.11 400.99L668.30 400.19L668.58 399.41L668.94 398.66L669.38 397.95L669.90 397.30L670.47 396.72L671.10 396.22L671.77 395.80L672.46 395.48L673.17 395.26L673.89 395.14L674.59 395.13L675.28 395.23L675.92 395.44L676.53 395.74L677.07 396.14L677.55 396.63L677.96 397.20L678.28 397.84L678.51 398.54L678.66 399.28L678.70 400.06Z" stroke-width="1.25" fill="#fff" />
<text x="673.55" y="403.83" font-size="8.5" text-anchor="middle" font-weight="bold" textLength="4.6" lengthAdjust="spacingAndGlyphs" style="stroke:#111;stroke-width:0.5px">H</text>
</svg>
</body></html>
